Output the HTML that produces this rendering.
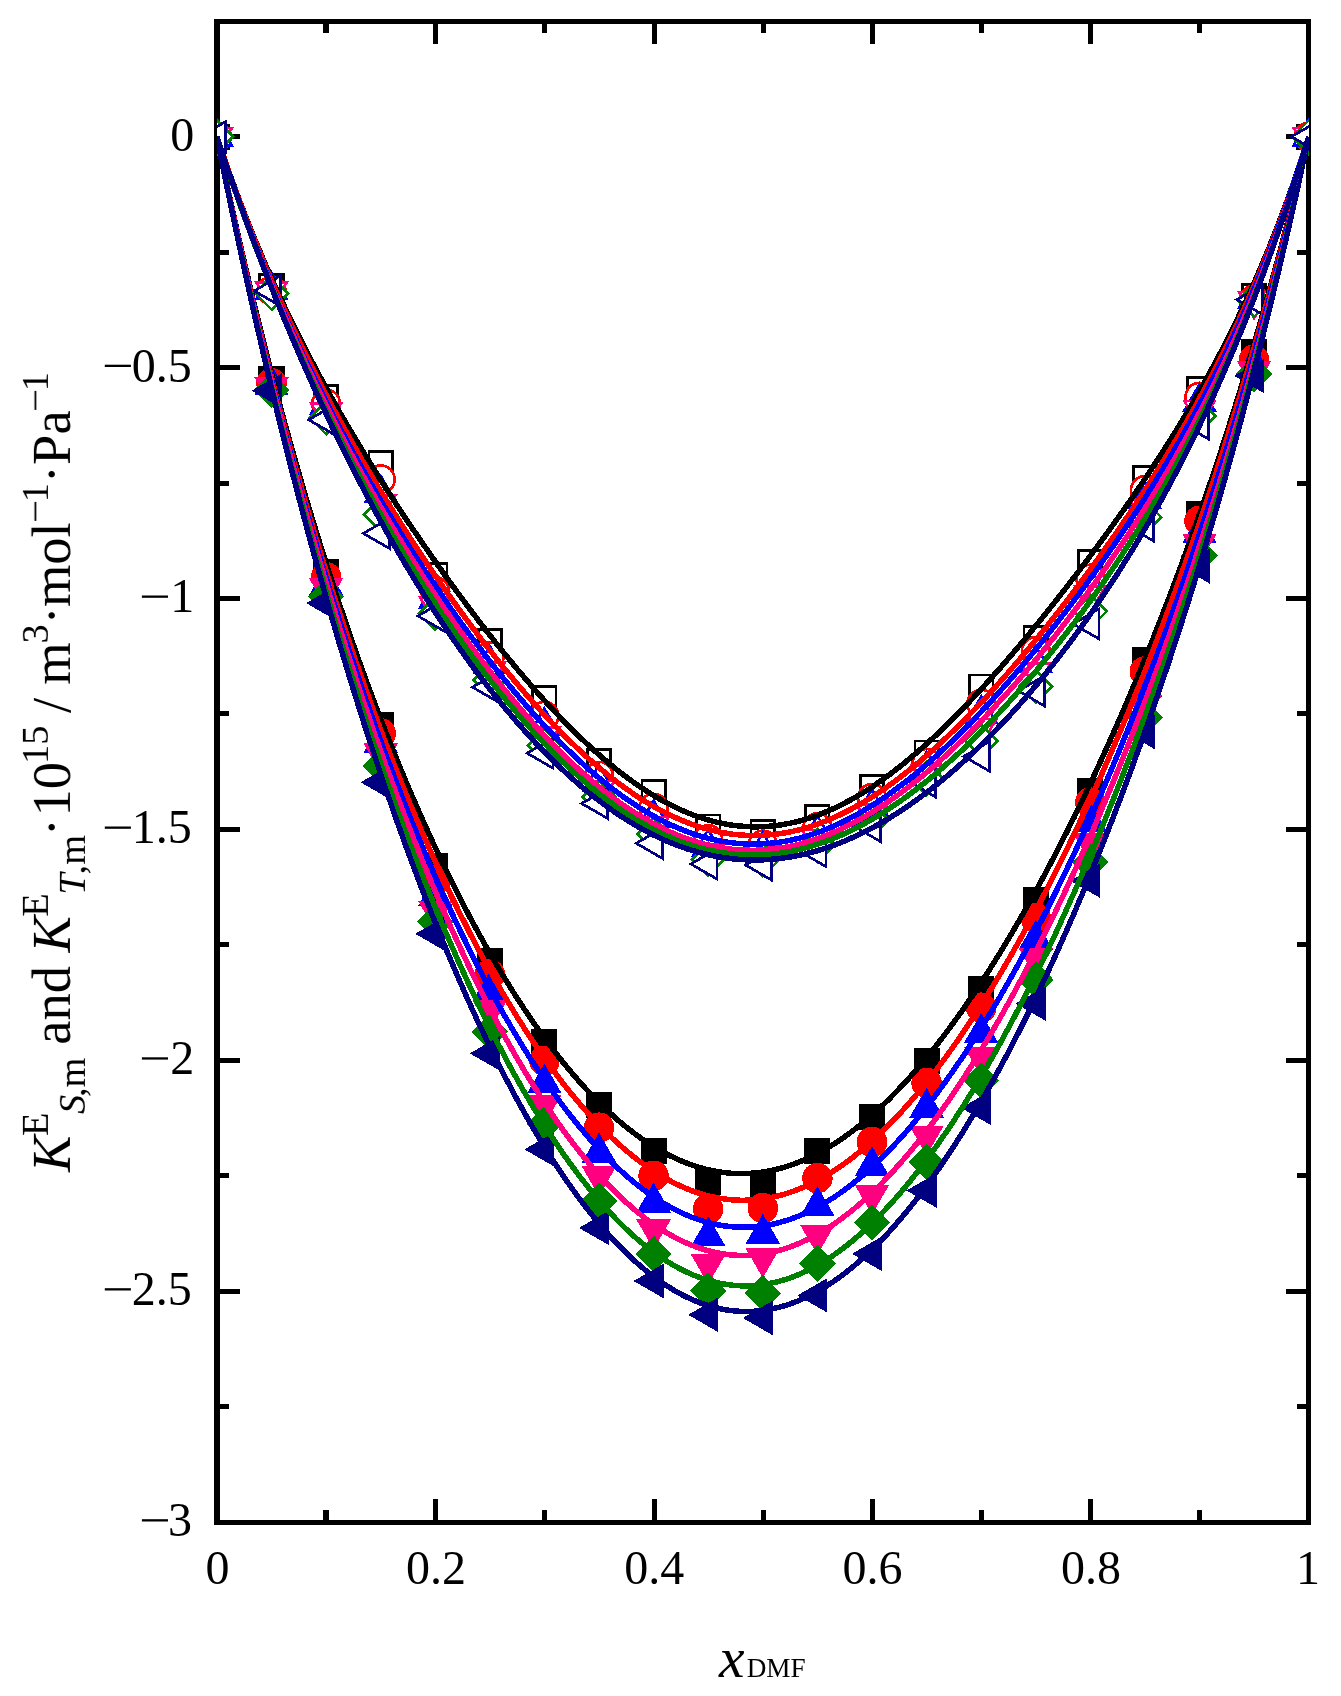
<!DOCTYPE html>
<html><head><meta charset="utf-8"><title>chart</title>
<style>
html,body{margin:0;padding:0;background:#fff;}
svg{display:block;}
.tx{filter:grayscale(1);}
text{font-family:"Liberation Serif",serif;fill:#000;}
.i{font-style:italic;}
</style></head><body>
<svg width="1341" height="1696" viewBox="0 0 1341 1696">
<rect x="0" y="0" width="1341" height="1696" fill="#ffffff"/>
<g fill="#000" shape-rendering="crispEdges">
<rect x="214" y="19" width="6" height="1506"/>
<rect x="1306" y="19" width="5" height="1506"/>
<rect x="214" y="19" width="1097" height="5"/>
<rect x="214" y="1520" width="1097" height="5"/>
<rect x="323" y="1510" width="6" height="10"/>
<rect x="323" y="24" width="6" height="9"/>
<rect x="433" y="1499" width="5" height="21"/>
<rect x="433" y="24" width="5" height="20"/>
<rect x="542" y="1510" width="5" height="10"/>
<rect x="542" y="24" width="5" height="9"/>
<rect x="652" y="1499" width="5" height="21"/>
<rect x="652" y="24" width="5" height="20"/>
<rect x="761" y="1510" width="5" height="10"/>
<rect x="761" y="24" width="5" height="9"/>
<rect x="870" y="1499" width="5" height="21"/>
<rect x="870" y="24" width="5" height="20"/>
<rect x="979" y="1510" width="5" height="10"/>
<rect x="979" y="24" width="5" height="9"/>
<rect x="1088" y="1499" width="5" height="21"/>
<rect x="1088" y="24" width="5" height="20"/>
<rect x="1197" y="1510" width="5" height="10"/>
<rect x="1197" y="24" width="5" height="9"/>
<rect x="220" y="134" width="20" height="5"/>
<rect x="1286" y="134" width="20" height="5"/>
<rect x="220" y="250" width="9" height="5"/>
<rect x="1297" y="250" width="9" height="5"/>
<rect x="220" y="365" width="20" height="5"/>
<rect x="1286" y="365" width="20" height="5"/>
<rect x="220" y="481" width="9" height="5"/>
<rect x="1297" y="481" width="9" height="5"/>
<rect x="220" y="596" width="20" height="5"/>
<rect x="1286" y="596" width="20" height="5"/>
<rect x="220" y="711" width="9" height="5"/>
<rect x="1297" y="711" width="9" height="5"/>
<rect x="220" y="827" width="20" height="5"/>
<rect x="1286" y="827" width="20" height="5"/>
<rect x="220" y="942" width="9" height="5"/>
<rect x="1297" y="942" width="9" height="5"/>
<rect x="220" y="1058" width="20" height="5"/>
<rect x="1286" y="1058" width="20" height="5"/>
<rect x="220" y="1173" width="9" height="5"/>
<rect x="1297" y="1173" width="9" height="5"/>
<rect x="220" y="1289" width="20" height="5"/>
<rect x="1286" y="1289" width="20" height="5"/>
<rect x="220" y="1404" width="9" height="5"/>
<rect x="1297" y="1404" width="9" height="5"/>
</g>
<g class="tx" font-size="48px">
<text x="217.5" y="1584" text-anchor="middle">0</text>
<text x="435.9" y="1584" text-anchor="middle">0.2</text>
<text x="654.2" y="1584" text-anchor="middle">0.4</text>
<text x="872.6" y="1584" text-anchor="middle">0.6</text>
<text x="1090.9" y="1584" text-anchor="middle">0.8</text>
<text x="1308.1" y="1584" text-anchor="middle">1</text>
<text x="194.2" y="150.6" text-anchor="end">0</text>
<text x="191.8" y="381.5" text-anchor="end">0.5</text>
<rect x="104.8" y="364.7" width="26.1" height="2.3" fill="#000"/>
<text x="194.2" y="612.4" text-anchor="end">1</text>
<rect x="141.9" y="595.5" width="26.1" height="2.3" fill="#000"/>
<text x="191.8" y="843.3" text-anchor="end">1.5</text>
<rect x="104.8" y="826.5" width="26.1" height="2.3" fill="#000"/>
<text x="194.2" y="1074.2" text-anchor="end">2</text>
<rect x="141.9" y="1057.3" width="26.1" height="2.3" fill="#000"/>
<text x="191.8" y="1305.1" text-anchor="end">2.5</text>
<rect x="104.8" y="1288.2" width="26.1" height="2.3" fill="#000"/>
<text x="192.0" y="1536.0" text-anchor="end">3</text>
<rect x="141.9" y="1519.2" width="26.1" height="2.3" fill="#000"/>
</g>
<g class="tx"><g transform="translate(69.9,1200.0) rotate(-90)"><text class="i" font-size="54.5px" x="27.95" y="0.0">K</text><text font-size="38.4px" x="63.90" y="-21.9">E</text><text class="i" font-size="38.4px" x="85.95" y="14.6">S</text><text font-size="38.4px" x="103.00" y="14.6">,m</text><text font-size="54.5px" x="155.35" y="0.0">and</text><text class="i" font-size="54.5px" x="247.55" y="0.0">K</text><text font-size="38.4px" x="283.35" y="-21.9">E</text><text class="i" font-size="38.4px" x="305.15" y="14.6">T</text><text font-size="38.4px" x="325.60" y="14.6">,m</text><text font-size="54.5px" x="363.66" y="0.0">·</text><text font-size="54.5px" x="383.47" y="0.0">10</text><text font-size="38.4px" x="436.05" y="-21.9">15</text><text font-size="54.5px" x="486.99" y="0.0">/</text><text font-size="54.5px" x="515.16" y="0.0">m</text><text font-size="38.4px" x="556.50" y="-21.9">3</text><text font-size="54.5px" x="575.56" y="0.0">·</text><text font-size="54.5px" x="592.97" y="0.0">mol</text><text font-size="38.4px" x="697.85" y="-21.9">1</text><text font-size="54.5px" x="716.76" y="0.0">·</text><text font-size="54.5px" x="735.10" y="0.0">Pa</text><text font-size="38.4px" x="808.75" y="-21.9">1</text><rect x="679.1" y="-35.4" width="19.0" height="1.8" fill="#000"/><rect x="790.1" y="-35.4" width="19.0" height="1.8" fill="#000"/></g>
<text class="i" font-size="57.5px" x="718.90" y="1677.3">x</text><text font-size="28px" x="746.66" y="1677.1" textLength="59.0" lengthAdjust="spacingAndGlyphs">DMF</text>
</g>
<defs><clipPath id="plotclip"><rect x="217" y="21" width="1092" height="1502"/></clipPath></defs>
<g clip-path="url(#plotclip)" shape-rendering="crispEdges">
<polygon points="205.2,125.0 228.6,125.0 228.6,148.4 205.2,148.4" fill="#000000" stroke="#000000" stroke-width="2.7" stroke-linejoin="miter"/>
<polygon points="259.8,367.4 283.2,367.4 283.2,390.8 259.8,390.8" fill="#000000" stroke="#000000" stroke-width="2.7" stroke-linejoin="miter"/>
<polygon points="314.4,560.5 337.8,560.5 337.8,583.9 314.4,583.9" fill="#000000" stroke="#000000" stroke-width="2.7" stroke-linejoin="miter"/>
<polygon points="369.0,713.3 392.4,713.3 392.4,736.7 369.0,736.7" fill="#000000" stroke="#000000" stroke-width="2.7" stroke-linejoin="miter"/>
<polygon points="423.6,854.6 447.0,854.6 447.0,878.0 423.6,878.0" fill="#000000" stroke="#000000" stroke-width="2.7" stroke-linejoin="miter"/>
<polygon points="478.2,949.8 501.6,949.8 501.6,973.2 478.2,973.2" fill="#000000" stroke="#000000" stroke-width="2.7" stroke-linejoin="miter"/>
<polygon points="532.7,1030.6 556.1,1030.6 556.1,1054.0 532.7,1054.0" fill="#000000" stroke="#000000" stroke-width="2.7" stroke-linejoin="miter"/>
<polygon points="587.3,1093.4 610.7,1093.4 610.7,1116.8 587.3,1116.8" fill="#000000" stroke="#000000" stroke-width="2.7" stroke-linejoin="miter"/>
<polygon points="641.9,1139.1 665.3,1139.1 665.3,1162.5 641.9,1162.5" fill="#000000" stroke="#000000" stroke-width="2.7" stroke-linejoin="miter"/>
<polygon points="696.5,1170.5 719.9,1170.5 719.9,1193.9 696.5,1193.9" fill="#000000" stroke="#000000" stroke-width="2.7" stroke-linejoin="miter"/>
<polygon points="751.1,1171.9 774.5,1171.9 774.5,1195.3 751.1,1195.3" fill="#000000" stroke="#000000" stroke-width="2.7" stroke-linejoin="miter"/>
<polygon points="805.7,1139.6 829.1,1139.6 829.1,1163.0 805.7,1163.0" fill="#000000" stroke="#000000" stroke-width="2.7" stroke-linejoin="miter"/>
<polygon points="860.3,1104.9 883.7,1104.9 883.7,1128.3 860.3,1128.3" fill="#000000" stroke="#000000" stroke-width="2.7" stroke-linejoin="miter"/>
<polygon points="914.9,1049.5 938.3,1049.5 938.3,1072.9 914.9,1072.9" fill="#000000" stroke="#000000" stroke-width="2.7" stroke-linejoin="miter"/>
<polygon points="969.5,977.5 992.9,977.5 992.9,1000.9 969.5,1000.9" fill="#000000" stroke="#000000" stroke-width="2.7" stroke-linejoin="miter"/>
<polygon points="1024.0,888.4 1047.5,888.4 1047.5,911.8 1024.0,911.8" fill="#000000" stroke="#000000" stroke-width="2.7" stroke-linejoin="miter"/>
<polygon points="1078.6,778.9 1102.0,778.9 1102.0,802.3 1078.6,802.3" fill="#000000" stroke="#000000" stroke-width="2.7" stroke-linejoin="miter"/>
<polygon points="1133.2,648.7 1156.6,648.7 1156.6,672.1 1133.2,672.1" fill="#000000" stroke="#000000" stroke-width="2.7" stroke-linejoin="miter"/>
<polygon points="1187.8,502.3 1211.2,502.3 1211.2,525.7 1187.8,525.7" fill="#000000" stroke="#000000" stroke-width="2.7" stroke-linejoin="miter"/>
<polygon points="1242.4,340.7 1265.8,340.7 1265.8,364.1 1242.4,364.1" fill="#000000" stroke="#000000" stroke-width="2.7" stroke-linejoin="miter"/>
<polygon points="1297.0,125.0 1320.4,125.0 1320.4,148.4 1297.0,148.4" fill="#000000" stroke="#000000" stroke-width="2.7" stroke-linejoin="miter"/>
<circle cx="216.9" cy="136.7" r="13.9" fill="#ff0000" stroke="#ff0000" stroke-width="2.7" stroke-linejoin="miter"/>
<circle cx="271.5" cy="383.3" r="13.9" fill="#ff0000" stroke="#ff0000" stroke-width="2.7" stroke-linejoin="miter"/>
<circle cx="326.1" cy="577.3" r="13.9" fill="#ff0000" stroke="#ff0000" stroke-width="2.7" stroke-linejoin="miter"/>
<circle cx="380.7" cy="733.3" r="13.9" fill="#ff0000" stroke="#ff0000" stroke-width="2.7" stroke-linejoin="miter"/>
<circle cx="435.3" cy="880.2" r="13.9" fill="#ff0000" stroke="#ff0000" stroke-width="2.7" stroke-linejoin="miter"/>
<circle cx="489.9" cy="974.4" r="13.9" fill="#ff0000" stroke="#ff0000" stroke-width="2.7" stroke-linejoin="miter"/>
<circle cx="544.4" cy="1060.8" r="13.9" fill="#ff0000" stroke="#ff0000" stroke-width="2.7" stroke-linejoin="miter"/>
<circle cx="599.0" cy="1127.7" r="13.9" fill="#ff0000" stroke="#ff0000" stroke-width="2.7" stroke-linejoin="miter"/>
<circle cx="653.6" cy="1175.8" r="13.9" fill="#ff0000" stroke="#ff0000" stroke-width="2.7" stroke-linejoin="miter"/>
<circle cx="708.2" cy="1209.0" r="13.9" fill="#ff0000" stroke="#ff0000" stroke-width="2.7" stroke-linejoin="miter"/>
<circle cx="762.8" cy="1208.1" r="13.9" fill="#ff0000" stroke="#ff0000" stroke-width="2.7" stroke-linejoin="miter"/>
<circle cx="817.4" cy="1178.1" r="13.9" fill="#ff0000" stroke="#ff0000" stroke-width="2.7" stroke-linejoin="miter"/>
<circle cx="872.0" cy="1142.0" r="13.9" fill="#ff0000" stroke="#ff0000" stroke-width="2.7" stroke-linejoin="miter"/>
<circle cx="926.6" cy="1082.9" r="13.9" fill="#ff0000" stroke="#ff0000" stroke-width="2.7" stroke-linejoin="miter"/>
<circle cx="981.2" cy="1007.7" r="13.9" fill="#ff0000" stroke="#ff0000" stroke-width="2.7" stroke-linejoin="miter"/>
<circle cx="1035.8" cy="918.1" r="13.9" fill="#ff0000" stroke="#ff0000" stroke-width="2.7" stroke-linejoin="miter"/>
<circle cx="1090.3" cy="802.6" r="13.9" fill="#ff0000" stroke="#ff0000" stroke-width="2.7" stroke-linejoin="miter"/>
<circle cx="1144.9" cy="671.5" r="13.9" fill="#ff0000" stroke="#ff0000" stroke-width="2.7" stroke-linejoin="miter"/>
<circle cx="1199.5" cy="520.9" r="13.9" fill="#ff0000" stroke="#ff0000" stroke-width="2.7" stroke-linejoin="miter"/>
<circle cx="1254.1" cy="359.7" r="13.9" fill="#ff0000" stroke="#ff0000" stroke-width="2.7" stroke-linejoin="miter"/>
<circle cx="1308.7" cy="136.7" r="13.9" fill="#ff0000" stroke="#ff0000" stroke-width="2.7" stroke-linejoin="miter"/>
<polygon points="216.9,119.4 231.9,145.4 201.9,145.4" fill="#0000ff" stroke="#0000ff" stroke-width="2.7" stroke-linejoin="miter"/>
<polygon points="271.5,367.8 286.5,393.8 256.5,393.8" fill="#0000ff" stroke="#0000ff" stroke-width="2.7" stroke-linejoin="miter"/>
<polygon points="326.1,568.2 341.1,594.2 311.1,594.2" fill="#0000ff" stroke="#0000ff" stroke-width="2.7" stroke-linejoin="miter"/>
<polygon points="380.7,725.7 395.7,751.7 365.7,751.7" fill="#0000ff" stroke="#0000ff" stroke-width="2.7" stroke-linejoin="miter"/>
<polygon points="435.3,879.0 450.3,905.0 420.3,905.0" fill="#0000ff" stroke="#0000ff" stroke-width="2.7" stroke-linejoin="miter"/>
<polygon points="489.9,973.7 504.9,999.7 474.9,999.7" fill="#0000ff" stroke="#0000ff" stroke-width="2.7" stroke-linejoin="miter"/>
<polygon points="544.4,1066.1 559.4,1092.1 529.4,1092.1" fill="#0000ff" stroke="#0000ff" stroke-width="2.7" stroke-linejoin="miter"/>
<polygon points="599.0,1135.3 614.0,1161.3 584.0,1161.3" fill="#0000ff" stroke="#0000ff" stroke-width="2.7" stroke-linejoin="miter"/>
<polygon points="653.6,1185.2 668.6,1211.2 638.6,1211.2" fill="#0000ff" stroke="#0000ff" stroke-width="2.7" stroke-linejoin="miter"/>
<polygon points="708.2,1218.9 723.2,1244.9 693.2,1244.9" fill="#0000ff" stroke="#0000ff" stroke-width="2.7" stroke-linejoin="miter"/>
<polygon points="762.8,1216.6 777.8,1242.6 747.8,1242.6" fill="#0000ff" stroke="#0000ff" stroke-width="2.7" stroke-linejoin="miter"/>
<polygon points="817.4,1188.9 832.4,1214.9 802.4,1214.9" fill="#0000ff" stroke="#0000ff" stroke-width="2.7" stroke-linejoin="miter"/>
<polygon points="872.0,1148.7 887.0,1174.7 857.0,1174.7" fill="#0000ff" stroke="#0000ff" stroke-width="2.7" stroke-linejoin="miter"/>
<polygon points="926.6,1090.5 941.6,1116.5 911.6,1116.5" fill="#0000ff" stroke="#0000ff" stroke-width="2.7" stroke-linejoin="miter"/>
<polygon points="981.2,1015.7 996.2,1041.7 966.2,1041.7" fill="#0000ff" stroke="#0000ff" stroke-width="2.7" stroke-linejoin="miter"/>
<polygon points="1035.8,922.4 1050.8,948.4 1020.8,948.4" fill="#0000ff" stroke="#0000ff" stroke-width="2.7" stroke-linejoin="miter"/>
<polygon points="1090.3,805.2 1105.3,831.1 1075.3,831.1" fill="#0000ff" stroke="#0000ff" stroke-width="2.7" stroke-linejoin="miter"/>
<polygon points="1144.9,669.8 1159.9,695.8 1129.9,695.8" fill="#0000ff" stroke="#0000ff" stroke-width="2.7" stroke-linejoin="miter"/>
<polygon points="1199.5,516.1 1214.5,542.0 1184.5,542.0" fill="#0000ff" stroke="#0000ff" stroke-width="2.7" stroke-linejoin="miter"/>
<polygon points="1254.1,348.0 1269.1,374.0 1239.1,374.0" fill="#0000ff" stroke="#0000ff" stroke-width="2.7" stroke-linejoin="miter"/>
<polygon points="1308.7,119.4 1323.7,145.4 1293.7,145.4" fill="#0000ff" stroke="#0000ff" stroke-width="2.7" stroke-linejoin="miter"/>
<polygon points="216.9,154.0 231.9,128.0 201.9,128.0" fill="#ff0080" stroke="#ff0080" stroke-width="2.7" stroke-linejoin="miter"/>
<polygon points="271.5,404.3 286.5,378.3 256.5,378.3" fill="#ff0080" stroke="#ff0080" stroke-width="2.7" stroke-linejoin="miter"/>
<polygon points="326.1,605.2 341.1,579.2 311.1,579.2" fill="#ff0080" stroke="#ff0080" stroke-width="2.7" stroke-linejoin="miter"/>
<polygon points="380.7,770.5 395.7,744.5 365.7,744.5" fill="#ff0080" stroke="#ff0080" stroke-width="2.7" stroke-linejoin="miter"/>
<polygon points="435.3,928.0 450.3,902.0 420.3,902.0" fill="#ff0080" stroke="#ff0080" stroke-width="2.7" stroke-linejoin="miter"/>
<polygon points="489.9,1027.7 504.9,1001.8 474.9,1001.8" fill="#ff0080" stroke="#ff0080" stroke-width="2.7" stroke-linejoin="miter"/>
<polygon points="544.4,1122.0 559.4,1096.0 529.4,1096.0" fill="#ff0080" stroke="#ff0080" stroke-width="2.7" stroke-linejoin="miter"/>
<polygon points="599.0,1193.5 614.0,1167.6 584.0,1167.6" fill="#ff0080" stroke="#ff0080" stroke-width="2.7" stroke-linejoin="miter"/>
<polygon points="653.6,1246.6 668.6,1220.7 638.6,1220.7" fill="#ff0080" stroke="#ff0080" stroke-width="2.7" stroke-linejoin="miter"/>
<polygon points="708.2,1281.7 723.2,1255.8 693.2,1255.8" fill="#ff0080" stroke="#ff0080" stroke-width="2.7" stroke-linejoin="miter"/>
<polygon points="762.8,1275.3 777.8,1249.3 747.8,1249.3" fill="#ff0080" stroke="#ff0080" stroke-width="2.7" stroke-linejoin="miter"/>
<polygon points="817.4,1252.2 832.4,1226.2 802.4,1226.2" fill="#ff0080" stroke="#ff0080" stroke-width="2.7" stroke-linejoin="miter"/>
<polygon points="872.0,1212.0 887.0,1186.0 857.0,1186.0" fill="#ff0080" stroke="#ff0080" stroke-width="2.7" stroke-linejoin="miter"/>
<polygon points="926.6,1152.9 941.6,1126.9 911.6,1126.9" fill="#ff0080" stroke="#ff0080" stroke-width="2.7" stroke-linejoin="miter"/>
<polygon points="981.2,1073.9 996.2,1047.9 966.2,1047.9" fill="#ff0080" stroke="#ff0080" stroke-width="2.7" stroke-linejoin="miter"/>
<polygon points="1035.8,975.1 1050.8,949.1 1020.8,949.1" fill="#ff0080" stroke="#ff0080" stroke-width="2.7" stroke-linejoin="miter"/>
<polygon points="1090.3,860.6 1105.3,834.6 1075.3,834.6" fill="#ff0080" stroke="#ff0080" stroke-width="2.7" stroke-linejoin="miter"/>
<polygon points="1144.9,722.0 1159.9,696.1 1129.9,696.1" fill="#ff0080" stroke="#ff0080" stroke-width="2.7" stroke-linejoin="miter"/>
<polygon points="1199.5,560.9 1214.5,534.9 1184.5,534.9" fill="#ff0080" stroke="#ff0080" stroke-width="2.7" stroke-linejoin="miter"/>
<polygon points="1254.1,388.2 1269.1,362.2 1239.1,362.2" fill="#ff0080" stroke="#ff0080" stroke-width="2.7" stroke-linejoin="miter"/>
<polygon points="1308.7,154.0 1323.7,128.0 1293.7,128.0" fill="#ff0080" stroke="#ff0080" stroke-width="2.7" stroke-linejoin="miter"/>
<polygon points="216.9,120.4 233.2,136.7 216.9,153.0 200.6,136.7" fill="#008000" stroke="#008000" stroke-width="2.7" stroke-linejoin="miter"/>
<polygon points="271.5,373.5 287.8,389.8 271.5,406.1 255.2,389.8" fill="#008000" stroke="#008000" stroke-width="2.7" stroke-linejoin="miter"/>
<polygon points="326.1,580.4 342.4,596.7 326.1,613.0 309.8,596.7" fill="#008000" stroke="#008000" stroke-width="2.7" stroke-linejoin="miter"/>
<polygon points="380.7,749.8 397.0,766.1 380.7,782.4 364.4,766.1" fill="#008000" stroke="#008000" stroke-width="2.7" stroke-linejoin="miter"/>
<polygon points="435.3,905.5 451.6,921.8 435.3,938.1 419.0,921.8" fill="#008000" stroke="#008000" stroke-width="2.7" stroke-linejoin="miter"/>
<polygon points="489.9,1015.4 506.2,1031.7 489.9,1048.0 473.6,1031.7" fill="#008000" stroke="#008000" stroke-width="2.7" stroke-linejoin="miter"/>
<polygon points="544.4,1107.7 560.7,1124.0 544.4,1140.3 528.1,1124.0" fill="#008000" stroke="#008000" stroke-width="2.7" stroke-linejoin="miter"/>
<polygon points="599.0,1184.8 615.3,1201.1 599.0,1217.4 582.7,1201.1" fill="#008000" stroke="#008000" stroke-width="2.7" stroke-linejoin="miter"/>
<polygon points="653.6,1237.5 669.9,1253.8 653.6,1270.1 637.3,1253.8" fill="#008000" stroke="#008000" stroke-width="2.7" stroke-linejoin="miter"/>
<polygon points="708.2,1274.4 724.5,1290.7 708.2,1307.0 691.9,1290.7" fill="#008000" stroke="#008000" stroke-width="2.7" stroke-linejoin="miter"/>
<polygon points="762.8,1276.7 779.1,1293.0 762.8,1309.3 746.5,1293.0" fill="#008000" stroke="#008000" stroke-width="2.7" stroke-linejoin="miter"/>
<polygon points="817.4,1247.2 833.7,1263.5 817.4,1279.8 801.1,1263.5" fill="#008000" stroke="#008000" stroke-width="2.7" stroke-linejoin="miter"/>
<polygon points="872.0,1206.1 888.3,1222.4 872.0,1238.7 855.7,1222.4" fill="#008000" stroke="#008000" stroke-width="2.7" stroke-linejoin="miter"/>
<polygon points="926.6,1145.6 942.9,1161.9 926.6,1178.2 910.3,1161.9" fill="#008000" stroke="#008000" stroke-width="2.7" stroke-linejoin="miter"/>
<polygon points="981.2,1064.3 997.5,1080.6 981.2,1096.9 964.9,1080.6" fill="#008000" stroke="#008000" stroke-width="2.7" stroke-linejoin="miter"/>
<polygon points="1035.8,963.6 1052.0,979.9 1035.8,996.2 1019.5,979.9" fill="#008000" stroke="#008000" stroke-width="2.7" stroke-linejoin="miter"/>
<polygon points="1090.3,845.9 1106.6,862.2 1090.3,878.5 1074.0,862.2" fill="#008000" stroke="#008000" stroke-width="2.7" stroke-linejoin="miter"/>
<polygon points="1144.9,700.9 1161.2,717.2 1144.9,733.5 1128.6,717.2" fill="#008000" stroke="#008000" stroke-width="2.7" stroke-linejoin="miter"/>
<polygon points="1199.5,539.3 1215.8,555.6 1199.5,571.9 1183.2,555.6" fill="#008000" stroke="#008000" stroke-width="2.7" stroke-linejoin="miter"/>
<polygon points="1254.1,357.8 1270.4,374.1 1254.1,390.4 1237.8,374.1" fill="#008000" stroke="#008000" stroke-width="2.7" stroke-linejoin="miter"/>
<polygon points="1308.7,120.4 1325.0,136.7 1308.7,153.0 1292.4,136.7" fill="#008000" stroke="#008000" stroke-width="2.7" stroke-linejoin="miter"/>
<polygon points="199.6,136.7 225.6,121.7 225.6,151.7" fill="#000080" stroke="#000080" stroke-width="2.7" stroke-linejoin="miter"/>
<polygon points="254.2,390.7 280.2,375.7 280.2,405.7" fill="#000080" stroke="#000080" stroke-width="2.7" stroke-linejoin="miter"/>
<polygon points="308.8,603.1 334.7,588.1 334.7,618.1" fill="#000080" stroke="#000080" stroke-width="2.7" stroke-linejoin="miter"/>
<polygon points="363.3,782.3 389.3,767.3 389.3,797.3" fill="#000080" stroke="#000080" stroke-width="2.7" stroke-linejoin="miter"/>
<polygon points="417.9,933.8 443.9,918.8 443.9,948.8" fill="#000080" stroke="#000080" stroke-width="2.7" stroke-linejoin="miter"/>
<polygon points="472.5,1053.4 498.5,1038.4 498.5,1068.4" fill="#000080" stroke="#000080" stroke-width="2.7" stroke-linejoin="miter"/>
<polygon points="527.1,1149.4 553.1,1134.4 553.1,1164.4" fill="#000080" stroke="#000080" stroke-width="2.7" stroke-linejoin="miter"/>
<polygon points="581.7,1227.9 607.7,1212.9 607.7,1242.9" fill="#000080" stroke="#000080" stroke-width="2.7" stroke-linejoin="miter"/>
<polygon points="636.3,1281.0 662.3,1266.0 662.3,1296.0" fill="#000080" stroke="#000080" stroke-width="2.7" stroke-linejoin="miter"/>
<polygon points="690.9,1314.8 716.9,1299.8 716.9,1329.8" fill="#000080" stroke="#000080" stroke-width="2.7" stroke-linejoin="miter"/>
<polygon points="745.5,1318.0 771.5,1303.0 771.5,1333.0" fill="#000080" stroke="#000080" stroke-width="2.7" stroke-linejoin="miter"/>
<polygon points="800.1,1295.4 826.1,1280.4 826.1,1310.4" fill="#000080" stroke="#000080" stroke-width="2.7" stroke-linejoin="miter"/>
<polygon points="854.7,1253.8 880.6,1238.8 880.6,1268.8" fill="#000080" stroke="#000080" stroke-width="2.7" stroke-linejoin="miter"/>
<polygon points="909.2,1190.5 935.2,1175.5 935.2,1205.5" fill="#000080" stroke="#000080" stroke-width="2.7" stroke-linejoin="miter"/>
<polygon points="963.8,1107.9 989.8,1092.9 989.8,1122.9" fill="#000080" stroke="#000080" stroke-width="2.7" stroke-linejoin="miter"/>
<polygon points="1018.4,1003.5 1044.4,988.5 1044.4,1018.5" fill="#000080" stroke="#000080" stroke-width="2.7" stroke-linejoin="miter"/>
<polygon points="1073.0,880.7 1099.0,865.7 1099.0,895.7" fill="#000080" stroke="#000080" stroke-width="2.7" stroke-linejoin="miter"/>
<polygon points="1127.6,732.0 1153.6,717.0 1153.6,747.0" fill="#000080" stroke="#000080" stroke-width="2.7" stroke-linejoin="miter"/>
<polygon points="1182.2,566.2 1208.2,551.2 1208.2,581.2" fill="#000080" stroke="#000080" stroke-width="2.7" stroke-linejoin="miter"/>
<polygon points="1236.8,375.9 1262.8,360.9 1262.8,390.9" fill="#000080" stroke="#000080" stroke-width="2.7" stroke-linejoin="miter"/>
<polygon points="1291.4,136.7 1317.4,121.7 1317.4,151.7" fill="#000080" stroke="#000080" stroke-width="2.7" stroke-linejoin="miter"/>
<polygon points="205.2,125.0 228.6,125.0 228.6,148.4 205.2,148.4" fill="#ffffff" stroke="#000000" stroke-width="2.7" stroke-linejoin="miter"/>
<polygon points="259.8,274.6 283.2,274.6 283.2,298.0 259.8,298.0" fill="#ffffff" stroke="#000000" stroke-width="2.7" stroke-linejoin="miter"/>
<polygon points="314.4,385.5 337.8,385.5 337.8,408.9 314.4,408.9" fill="#ffffff" stroke="#000000" stroke-width="2.7" stroke-linejoin="miter"/>
<polygon points="369.0,451.5 392.4,451.5 392.4,474.9 369.0,474.9" fill="#ffffff" stroke="#000000" stroke-width="2.7" stroke-linejoin="miter"/>
<polygon points="423.6,563.7 447.0,563.7 447.0,587.1 423.6,587.1" fill="#ffffff" stroke="#000000" stroke-width="2.7" stroke-linejoin="miter"/>
<polygon points="478.2,629.7 501.6,629.7 501.6,653.1 478.2,653.1" fill="#ffffff" stroke="#000000" stroke-width="2.7" stroke-linejoin="miter"/>
<polygon points="532.7,686.5 556.1,686.5 556.1,709.9 532.7,709.9" fill="#ffffff" stroke="#000000" stroke-width="2.7" stroke-linejoin="miter"/>
<polygon points="587.3,749.4 610.7,749.4 610.7,772.8 587.3,772.8" fill="#ffffff" stroke="#000000" stroke-width="2.7" stroke-linejoin="miter"/>
<polygon points="641.9,780.8 665.3,780.8 665.3,804.2 641.9,804.2" fill="#ffffff" stroke="#000000" stroke-width="2.7" stroke-linejoin="miter"/>
<polygon points="696.5,814.9 719.9,814.9 719.9,838.3 696.5,838.3" fill="#ffffff" stroke="#000000" stroke-width="2.7" stroke-linejoin="miter"/>
<polygon points="751.1,820.5 774.5,820.5 774.5,843.9 751.1,843.9" fill="#ffffff" stroke="#000000" stroke-width="2.7" stroke-linejoin="miter"/>
<polygon points="805.7,805.7 829.1,805.7 829.1,829.1 805.7,829.1" fill="#ffffff" stroke="#000000" stroke-width="2.7" stroke-linejoin="miter"/>
<polygon points="860.3,775.2 883.7,775.2 883.7,798.6 860.3,798.6" fill="#ffffff" stroke="#000000" stroke-width="2.7" stroke-linejoin="miter"/>
<polygon points="914.9,741.0 938.3,741.0 938.3,764.4 914.9,764.4" fill="#ffffff" stroke="#000000" stroke-width="2.7" stroke-linejoin="miter"/>
<polygon points="969.5,675.0 992.9,675.0 992.9,698.4 969.5,698.4" fill="#ffffff" stroke="#000000" stroke-width="2.7" stroke-linejoin="miter"/>
<polygon points="1024.0,626.5 1047.5,626.5 1047.5,649.9 1024.0,649.9" fill="#ffffff" stroke="#000000" stroke-width="2.7" stroke-linejoin="miter"/>
<polygon points="1078.6,550.8 1102.0,550.8 1102.0,574.2 1078.6,574.2" fill="#ffffff" stroke="#000000" stroke-width="2.7" stroke-linejoin="miter"/>
<polygon points="1133.2,466.7 1156.6,466.7 1156.6,490.1 1133.2,490.1" fill="#ffffff" stroke="#000000" stroke-width="2.7" stroke-linejoin="miter"/>
<polygon points="1187.8,377.6 1211.2,377.6 1211.2,401.0 1187.8,401.0" fill="#ffffff" stroke="#000000" stroke-width="2.7" stroke-linejoin="miter"/>
<polygon points="1242.4,284.3 1265.8,284.3 1265.8,307.7 1242.4,307.7" fill="#ffffff" stroke="#000000" stroke-width="2.7" stroke-linejoin="miter"/>
<polygon points="1297.0,125.0 1320.4,125.0 1320.4,148.4 1297.0,148.4" fill="#ffffff" stroke="#000000" stroke-width="2.7" stroke-linejoin="miter"/>
<circle cx="216.9" cy="136.7" r="13.9" fill="#ffffff" stroke="#ff0000" stroke-width="2.7" stroke-linejoin="miter"/>
<circle cx="271.5" cy="290.5" r="13.9" fill="#ffffff" stroke="#ff0000" stroke-width="2.7" stroke-linejoin="miter"/>
<circle cx="326.1" cy="403.6" r="13.9" fill="#ffffff" stroke="#ff0000" stroke-width="2.7" stroke-linejoin="miter"/>
<circle cx="380.7" cy="479.4" r="13.9" fill="#ffffff" stroke="#ff0000" stroke-width="2.7" stroke-linejoin="miter"/>
<circle cx="435.3" cy="591.1" r="13.9" fill="#ffffff" stroke="#ff0000" stroke-width="2.7" stroke-linejoin="miter"/>
<circle cx="489.9" cy="656.2" r="13.9" fill="#ffffff" stroke="#ff0000" stroke-width="2.7" stroke-linejoin="miter"/>
<circle cx="544.4" cy="715.8" r="13.9" fill="#ffffff" stroke="#ff0000" stroke-width="2.7" stroke-linejoin="miter"/>
<circle cx="599.0" cy="775.8" r="13.9" fill="#ffffff" stroke="#ff0000" stroke-width="2.7" stroke-linejoin="miter"/>
<circle cx="653.6" cy="807.7" r="13.9" fill="#ffffff" stroke="#ff0000" stroke-width="2.7" stroke-linejoin="miter"/>
<circle cx="708.2" cy="839.1" r="13.9" fill="#ffffff" stroke="#ff0000" stroke-width="2.7" stroke-linejoin="miter"/>
<circle cx="762.8" cy="844.6" r="13.9" fill="#ffffff" stroke="#ff0000" stroke-width="2.7" stroke-linejoin="miter"/>
<circle cx="817.4" cy="827.1" r="13.9" fill="#ffffff" stroke="#ff0000" stroke-width="2.7" stroke-linejoin="miter"/>
<circle cx="872.0" cy="798.0" r="13.9" fill="#ffffff" stroke="#ff0000" stroke-width="2.7" stroke-linejoin="miter"/>
<circle cx="926.6" cy="762.9" r="13.9" fill="#ffffff" stroke="#ff0000" stroke-width="2.7" stroke-linejoin="miter"/>
<circle cx="981.2" cy="703.8" r="13.9" fill="#ffffff" stroke="#ff0000" stroke-width="2.7" stroke-linejoin="miter"/>
<circle cx="1035.8" cy="651.1" r="13.9" fill="#ffffff" stroke="#ff0000" stroke-width="2.7" stroke-linejoin="miter"/>
<circle cx="1090.3" cy="578.6" r="13.9" fill="#ffffff" stroke="#ff0000" stroke-width="2.7" stroke-linejoin="miter"/>
<circle cx="1144.9" cy="490.0" r="13.9" fill="#ffffff" stroke="#ff0000" stroke-width="2.7" stroke-linejoin="miter"/>
<circle cx="1199.5" cy="396.7" r="13.9" fill="#ffffff" stroke="#ff0000" stroke-width="2.7" stroke-linejoin="miter"/>
<circle cx="1254.1" cy="299.7" r="13.9" fill="#ffffff" stroke="#ff0000" stroke-width="2.7" stroke-linejoin="miter"/>
<circle cx="1308.7" cy="136.7" r="13.9" fill="#ffffff" stroke="#ff0000" stroke-width="2.7" stroke-linejoin="miter"/>
<polygon points="216.9,119.4 231.9,145.4 201.9,145.4" fill="#ffffff" stroke="#0000ff" stroke-width="2.7" stroke-linejoin="miter"/>
<polygon points="271.5,272.7 286.5,298.7 256.5,298.7" fill="#ffffff" stroke="#0000ff" stroke-width="2.7" stroke-linejoin="miter"/>
<polygon points="326.1,387.7 341.1,413.7 311.1,413.7" fill="#ffffff" stroke="#0000ff" stroke-width="2.7" stroke-linejoin="miter"/>
<polygon points="380.7,475.9 395.7,501.9 365.7,501.9" fill="#ffffff" stroke="#0000ff" stroke-width="2.7" stroke-linejoin="miter"/>
<polygon points="435.3,581.2 450.3,607.2 420.3,607.2" fill="#ffffff" stroke="#0000ff" stroke-width="2.7" stroke-linejoin="miter"/>
<polygon points="489.9,646.3 504.9,672.3 474.9,672.3" fill="#ffffff" stroke="#0000ff" stroke-width="2.7" stroke-linejoin="miter"/>
<polygon points="544.4,708.6 559.4,734.6 529.4,734.6" fill="#ffffff" stroke="#0000ff" stroke-width="2.7" stroke-linejoin="miter"/>
<polygon points="599.0,765.0 614.0,791.0 584.0,791.0" fill="#ffffff" stroke="#0000ff" stroke-width="2.7" stroke-linejoin="miter"/>
<polygon points="653.6,800.5 668.6,826.5 638.6,826.5" fill="#ffffff" stroke="#0000ff" stroke-width="2.7" stroke-linejoin="miter"/>
<polygon points="708.2,829.6 723.2,855.6 693.2,855.6" fill="#ffffff" stroke="#0000ff" stroke-width="2.7" stroke-linejoin="miter"/>
<polygon points="762.8,832.4 777.8,858.4 747.8,858.4" fill="#ffffff" stroke="#0000ff" stroke-width="2.7" stroke-linejoin="miter"/>
<polygon points="817.4,815.8 832.4,841.8 802.4,841.8" fill="#ffffff" stroke="#0000ff" stroke-width="2.7" stroke-linejoin="miter"/>
<polygon points="872.0,789.0 887.0,815.0 857.0,815.0" fill="#ffffff" stroke="#0000ff" stroke-width="2.7" stroke-linejoin="miter"/>
<polygon points="926.6,752.0 941.6,778.0 911.6,778.0" fill="#ffffff" stroke="#0000ff" stroke-width="2.7" stroke-linejoin="miter"/>
<polygon points="981.2,696.6 996.2,722.6 966.2,722.6" fill="#ffffff" stroke="#0000ff" stroke-width="2.7" stroke-linejoin="miter"/>
<polygon points="1035.8,645.8 1050.8,671.8 1020.8,671.8" fill="#ffffff" stroke="#0000ff" stroke-width="2.7" stroke-linejoin="miter"/>
<polygon points="1090.3,567.8 1105.3,593.8 1075.3,593.8" fill="#ffffff" stroke="#0000ff" stroke-width="2.7" stroke-linejoin="miter"/>
<polygon points="1144.9,481.9 1159.9,507.9 1129.9,507.9" fill="#ffffff" stroke="#0000ff" stroke-width="2.7" stroke-linejoin="miter"/>
<polygon points="1199.5,384.5 1214.5,410.4 1184.5,410.4" fill="#ffffff" stroke="#0000ff" stroke-width="2.7" stroke-linejoin="miter"/>
<polygon points="1254.1,281.9 1269.1,307.9 1239.1,307.9" fill="#ffffff" stroke="#0000ff" stroke-width="2.7" stroke-linejoin="miter"/>
<polygon points="1308.7,119.4 1323.7,145.4 1293.7,145.4" fill="#ffffff" stroke="#0000ff" stroke-width="2.7" stroke-linejoin="miter"/>
<polygon points="216.9,154.0 231.9,128.0 201.9,128.0" fill="#ffffff" stroke="#ff0080" stroke-width="2.7" stroke-linejoin="miter"/>
<polygon points="271.5,308.7 286.5,282.7 256.5,282.7" fill="#ffffff" stroke="#ff0080" stroke-width="2.7" stroke-linejoin="miter"/>
<polygon points="326.1,429.3 341.1,403.3 311.1,403.3" fill="#ffffff" stroke="#ff0080" stroke-width="2.7" stroke-linejoin="miter"/>
<polygon points="380.7,521.2 395.7,495.2 365.7,495.2" fill="#ffffff" stroke="#ff0080" stroke-width="2.7" stroke-linejoin="miter"/>
<polygon points="435.3,623.7 450.3,597.7 420.3,597.7" fill="#ffffff" stroke="#ff0080" stroke-width="2.7" stroke-linejoin="miter"/>
<polygon points="489.9,688.3 504.9,662.3 474.9,662.3" fill="#ffffff" stroke="#ff0080" stroke-width="2.7" stroke-linejoin="miter"/>
<polygon points="544.4,753.4 559.4,727.5 529.4,727.5" fill="#ffffff" stroke="#ff0080" stroke-width="2.7" stroke-linejoin="miter"/>
<polygon points="599.0,807.0 614.0,781.0 584.0,781.0" fill="#ffffff" stroke="#ff0080" stroke-width="2.7" stroke-linejoin="miter"/>
<polygon points="653.6,843.0 668.6,817.0 638.6,817.0" fill="#ffffff" stroke="#ff0080" stroke-width="2.7" stroke-linejoin="miter"/>
<polygon points="708.2,870.7 723.2,844.8 693.2,844.8" fill="#ffffff" stroke="#ff0080" stroke-width="2.7" stroke-linejoin="miter"/>
<polygon points="762.8,872.1 777.8,846.1 747.8,846.1" fill="#ffffff" stroke="#ff0080" stroke-width="2.7" stroke-linejoin="miter"/>
<polygon points="817.4,856.0 832.4,830.0 802.4,830.0" fill="#ffffff" stroke="#ff0080" stroke-width="2.7" stroke-linejoin="miter"/>
<polygon points="872.0,830.6 887.0,804.6 857.0,804.6" fill="#ffffff" stroke="#ff0080" stroke-width="2.7" stroke-linejoin="miter"/>
<polygon points="926.6,791.3 941.6,765.3 911.6,765.3" fill="#ffffff" stroke="#ff0080" stroke-width="2.7" stroke-linejoin="miter"/>
<polygon points="981.2,745.1 996.2,719.1 966.2,719.1" fill="#ffffff" stroke="#ff0080" stroke-width="2.7" stroke-linejoin="miter"/>
<polygon points="1035.8,689.2 1050.8,663.3 1020.8,663.3" fill="#ffffff" stroke="#ff0080" stroke-width="2.7" stroke-linejoin="miter"/>
<polygon points="1090.3,612.6 1105.3,586.6 1075.3,586.6" fill="#ffffff" stroke="#ff0080" stroke-width="2.7" stroke-linejoin="miter"/>
<polygon points="1144.9,525.3 1159.9,499.3 1129.9,499.3" fill="#ffffff" stroke="#ff0080" stroke-width="2.7" stroke-linejoin="miter"/>
<polygon points="1199.5,426.9 1214.5,401.0 1184.5,401.0" fill="#ffffff" stroke="#ff0080" stroke-width="2.7" stroke-linejoin="miter"/>
<polygon points="1254.1,318.0 1269.1,292.0 1239.1,292.0" fill="#ffffff" stroke="#ff0080" stroke-width="2.7" stroke-linejoin="miter"/>
<polygon points="1308.7,154.0 1323.7,128.0 1293.7,128.0" fill="#ffffff" stroke="#ff0080" stroke-width="2.7" stroke-linejoin="miter"/>
<polygon points="216.9,120.4 233.2,136.7 216.9,153.0 200.6,136.7" fill="#ffffff" stroke="#008000" stroke-width="2.7" stroke-linejoin="miter"/>
<polygon points="271.5,277.0 287.8,293.3 271.5,309.6 255.2,293.3" fill="#ffffff" stroke="#008000" stroke-width="2.7" stroke-linejoin="miter"/>
<polygon points="326.1,401.6 342.4,417.9 326.1,434.2 309.8,417.9" fill="#ffffff" stroke="#008000" stroke-width="2.7" stroke-linejoin="miter"/>
<polygon points="380.7,498.2 397.0,514.5 380.7,530.8 364.4,514.5" fill="#ffffff" stroke="#008000" stroke-width="2.7" stroke-linejoin="miter"/>
<polygon points="435.3,597.0 451.6,613.3 435.3,629.6 419.0,613.3" fill="#ffffff" stroke="#008000" stroke-width="2.7" stroke-linejoin="miter"/>
<polygon points="489.9,663.9 506.2,680.2 489.9,696.5 473.6,680.2" fill="#ffffff" stroke="#008000" stroke-width="2.7" stroke-linejoin="miter"/>
<polygon points="544.4,729.1 560.7,745.4 544.4,761.7 528.1,745.4" fill="#ffffff" stroke="#008000" stroke-width="2.7" stroke-linejoin="miter"/>
<polygon points="599.0,780.8 615.3,797.1 599.0,813.4 582.7,797.1" fill="#ffffff" stroke="#008000" stroke-width="2.7" stroke-linejoin="miter"/>
<polygon points="653.6,817.7 669.9,834.0 653.6,850.3 637.3,834.0" fill="#ffffff" stroke="#008000" stroke-width="2.7" stroke-linejoin="miter"/>
<polygon points="708.2,843.1 724.5,859.4 708.2,875.7 691.9,859.4" fill="#ffffff" stroke="#008000" stroke-width="2.7" stroke-linejoin="miter"/>
<polygon points="762.8,843.6 779.1,859.9 762.8,876.2 746.5,859.9" fill="#ffffff" stroke="#008000" stroke-width="2.7" stroke-linejoin="miter"/>
<polygon points="817.4,829.3 833.7,845.6 817.4,861.9 801.1,845.6" fill="#ffffff" stroke="#008000" stroke-width="2.7" stroke-linejoin="miter"/>
<polygon points="872.0,803.9 888.3,820.2 872.0,836.5 855.7,820.2" fill="#ffffff" stroke="#008000" stroke-width="2.7" stroke-linejoin="miter"/>
<polygon points="926.6,762.3 942.9,778.6 926.6,794.9 910.3,778.6" fill="#ffffff" stroke="#008000" stroke-width="2.7" stroke-linejoin="miter"/>
<polygon points="981.2,724.4 997.5,740.7 981.2,757.0 964.9,740.7" fill="#ffffff" stroke="#008000" stroke-width="2.7" stroke-linejoin="miter"/>
<polygon points="1035.8,669.9 1052.0,686.2 1035.8,702.5 1019.5,686.2" fill="#ffffff" stroke="#008000" stroke-width="2.7" stroke-linejoin="miter"/>
<polygon points="1090.3,595.1 1106.6,611.4 1090.3,627.7 1074.0,611.4" fill="#ffffff" stroke="#008000" stroke-width="2.7" stroke-linejoin="miter"/>
<polygon points="1144.9,500.9 1161.2,517.2 1144.9,533.5 1128.6,517.2" fill="#ffffff" stroke="#008000" stroke-width="2.7" stroke-linejoin="miter"/>
<polygon points="1199.5,399.8 1215.8,416.1 1199.5,432.4 1183.2,416.1" fill="#ffffff" stroke="#008000" stroke-width="2.7" stroke-linejoin="miter"/>
<polygon points="1254.1,284.3 1270.4,300.6 1254.1,316.9 1237.8,300.6" fill="#ffffff" stroke="#008000" stroke-width="2.7" stroke-linejoin="miter"/>
<polygon points="1308.7,120.4 1325.0,136.7 1308.7,153.0 1292.4,136.7" fill="#ffffff" stroke="#008000" stroke-width="2.7" stroke-linejoin="miter"/>
<polygon points="199.6,136.7 225.6,121.7 225.6,151.7" fill="#ffffff" stroke="#000080" stroke-width="2.7" stroke-linejoin="miter"/>
<polygon points="254.2,290.9 280.2,275.9 280.2,305.9" fill="#ffffff" stroke="#000080" stroke-width="2.7" stroke-linejoin="miter"/>
<polygon points="308.8,419.8 334.7,404.8 334.7,434.8" fill="#ffffff" stroke="#000080" stroke-width="2.7" stroke-linejoin="miter"/>
<polygon points="363.3,533.4 389.3,518.4 389.3,548.4" fill="#ffffff" stroke="#000080" stroke-width="2.7" stroke-linejoin="miter"/>
<polygon points="417.9,616.0 443.9,601.0 443.9,631.0" fill="#ffffff" stroke="#000080" stroke-width="2.7" stroke-linejoin="miter"/>
<polygon points="472.5,687.2 498.5,672.2 498.5,702.2" fill="#ffffff" stroke="#000080" stroke-width="2.7" stroke-linejoin="miter"/>
<polygon points="527.1,753.2 553.1,738.2 553.1,768.2" fill="#ffffff" stroke="#000080" stroke-width="2.7" stroke-linejoin="miter"/>
<polygon points="581.7,803.5 607.7,788.5 607.7,818.5" fill="#ffffff" stroke="#000080" stroke-width="2.7" stroke-linejoin="miter"/>
<polygon points="636.3,843.3 662.3,828.3 662.3,858.3" fill="#ffffff" stroke="#000080" stroke-width="2.7" stroke-linejoin="miter"/>
<polygon points="690.9,864.0 716.9,849.0 716.9,879.0" fill="#ffffff" stroke="#000080" stroke-width="2.7" stroke-linejoin="miter"/>
<polygon points="745.5,865.0 771.5,850.0 771.5,880.0" fill="#ffffff" stroke="#000080" stroke-width="2.7" stroke-linejoin="miter"/>
<polygon points="800.1,851.6 826.1,836.6 826.1,866.6" fill="#ffffff" stroke="#000080" stroke-width="2.7" stroke-linejoin="miter"/>
<polygon points="854.7,826.6 880.6,811.6 880.6,841.6" fill="#ffffff" stroke="#000080" stroke-width="2.7" stroke-linejoin="miter"/>
<polygon points="909.2,781.8 935.2,766.8 935.2,796.8" fill="#ffffff" stroke="#000080" stroke-width="2.7" stroke-linejoin="miter"/>
<polygon points="963.8,756.4 989.8,741.4 989.8,771.4" fill="#ffffff" stroke="#000080" stroke-width="2.7" stroke-linejoin="miter"/>
<polygon points="1018.4,690.9 1044.4,675.9 1044.4,705.9" fill="#ffffff" stroke="#000080" stroke-width="2.7" stroke-linejoin="miter"/>
<polygon points="1073.0,623.9 1099.0,608.9 1099.0,638.9" fill="#ffffff" stroke="#000080" stroke-width="2.7" stroke-linejoin="miter"/>
<polygon points="1127.6,526.0 1153.6,511.0 1153.6,541.0" fill="#ffffff" stroke="#000080" stroke-width="2.7" stroke-linejoin="miter"/>
<polygon points="1182.2,423.9 1208.2,408.9 1208.2,438.9" fill="#ffffff" stroke="#000080" stroke-width="2.7" stroke-linejoin="miter"/>
<polygon points="1236.8,299.7 1262.8,284.7 1262.8,314.7" fill="#ffffff" stroke="#000080" stroke-width="2.7" stroke-linejoin="miter"/>
<polygon points="1291.4,136.7 1317.4,121.7 1317.4,151.7" fill="#ffffff" stroke="#000080" stroke-width="2.7" stroke-linejoin="miter"/>
<polyline points="216.9,136.7 219.6,149.8 222.4,162.8 225.1,175.7 227.8,188.4 230.5,200.9 233.3,213.3 236.0,225.6 238.7,237.7 241.5,249.7 244.2,261.5 246.9,273.2 249.7,284.8 252.4,296.3 255.1,307.6 257.8,318.8 260.6,329.9 263.3,340.8 266.0,351.7 268.8,362.4 271.5,373.0 274.2,383.5 276.9,393.8 279.7,404.1 282.4,414.3 285.1,424.3 287.9,434.2 290.6,444.1 293.3,453.8 296.1,463.5 298.8,473.0 301.5,482.4 304.2,491.8 307.0,501.0 309.7,510.2 312.4,519.2 315.2,528.2 317.9,537.1 320.6,545.8 323.4,554.5 326.1,563.2 328.8,571.7 331.5,580.1 334.3,588.5 337.0,596.8 339.7,605.0 342.5,613.1 345.2,621.1 347.9,629.1 350.6,637.0 353.4,644.8 356.1,652.5 358.8,660.2 361.6,667.8 364.3,675.3 367.0,682.7 369.8,690.1 372.5,697.4 375.2,704.6 377.9,711.8 380.7,718.9 383.4,725.9 386.1,732.9 388.9,739.8 391.6,746.6 394.3,753.4 397.0,760.1 399.8,766.7 402.5,773.3 405.2,779.8 408.0,786.3 410.7,792.6 413.4,799.0 416.2,805.3 418.9,811.5 421.6,817.6 424.3,823.7 427.1,829.7 429.8,835.7 432.5,841.6 435.3,847.5 438.0,853.3 440.7,859.1 443.4,864.8 446.2,870.4 448.9,876.0 451.6,881.5 454.4,887.0 457.1,892.4 459.8,897.8 462.6,903.1 465.3,908.3 468.0,913.5 470.7,918.7 473.5,923.8 476.2,928.8 478.9,933.8 481.7,938.7 484.4,943.6 487.1,948.4 489.9,953.2 492.6,958.0 495.3,962.6 498.0,967.3 500.8,971.8 503.5,976.3 506.2,980.8 509.0,985.2 511.7,989.6 514.4,993.9 517.1,998.2 519.9,1002.4 522.6,1006.6 525.3,1010.7 528.1,1014.7 530.8,1018.7 533.5,1022.7 536.3,1026.6 539.0,1030.5 541.7,1034.3 544.4,1038.0 547.2,1041.7 549.9,1045.4 552.6,1049.0 555.4,1052.5 558.1,1056.1 560.8,1059.5 563.5,1062.9 566.3,1066.3 569.0,1069.6 571.7,1072.8 574.5,1076.0 577.2,1079.2 579.9,1082.3 582.7,1085.3 585.4,1088.3 588.1,1091.2 590.8,1094.1 593.6,1097.0 596.3,1099.8 599.0,1102.5 601.8,1105.2 604.5,1107.8 607.2,1110.4 609.9,1113.0 612.7,1115.4 615.4,1117.9 618.1,1120.3 620.9,1122.6 623.6,1124.9 626.3,1127.1 629.1,1129.3 631.8,1131.4 634.5,1133.5 637.2,1135.5 640.0,1137.5 642.7,1139.4 645.4,1141.2 648.2,1143.1 650.9,1144.8 653.6,1146.5 656.3,1148.2 659.1,1149.8 661.8,1151.3 664.5,1152.8 667.3,1154.3 670.0,1155.7 672.7,1157.0 675.5,1158.3 678.2,1159.6 680.9,1160.8 683.6,1161.9 686.4,1163.0 689.1,1164.0 691.8,1165.0 694.6,1165.9 697.3,1166.8 700.0,1167.6 702.8,1168.4 705.5,1169.1 708.2,1169.8 710.9,1170.4 713.7,1170.9 716.4,1171.4 719.1,1171.9 721.9,1172.3 724.6,1172.6 727.3,1172.9 730.0,1173.2 732.8,1173.4 735.5,1173.5 738.2,1173.6 741.0,1173.6 743.7,1173.6 746.4,1173.5 749.2,1173.4 751.9,1173.2 754.6,1173.0 757.3,1172.7 760.1,1172.4 762.8,1172.0 765.5,1171.6 768.3,1171.1 771.0,1170.6 773.7,1170.0 776.4,1169.3 779.2,1168.6 781.9,1167.9 784.6,1167.1 787.4,1166.2 790.1,1165.3 792.8,1164.4 795.6,1163.4 798.3,1162.3 801.0,1161.2 803.7,1160.1 806.5,1158.9 809.2,1157.6 811.9,1156.3 814.7,1155.0 817.4,1153.6 820.1,1152.1 822.8,1150.6 825.6,1149.0 828.3,1147.4 831.0,1145.8 833.8,1144.1 836.5,1142.3 839.2,1140.5 842.0,1138.7 844.7,1136.7 847.4,1134.8 850.1,1132.8 852.9,1130.7 855.6,1128.6 858.3,1126.5 861.1,1124.3 863.8,1122.1 866.5,1119.8 869.3,1117.4 872.0,1115.1 874.7,1112.6 877.4,1110.1 880.2,1107.6 882.9,1105.0 885.6,1102.4 888.4,1099.8 891.1,1097.0 893.8,1094.3 896.5,1091.5 899.3,1088.6 902.0,1085.7 904.7,1082.8 907.5,1079.8 910.2,1076.8 912.9,1073.7 915.7,1070.6 918.4,1067.4 921.1,1064.2 923.8,1060.9 926.6,1057.6 929.3,1054.3 932.0,1050.9 934.8,1047.5 937.5,1044.0 940.2,1040.5 942.9,1036.9 945.7,1033.3 948.4,1029.6 951.1,1026.0 953.9,1022.2 956.6,1018.4 959.3,1014.6 962.1,1010.8 964.8,1006.9 967.5,1002.9 970.2,998.9 973.0,994.9 975.7,990.8 978.4,986.7 981.2,982.6 983.9,978.4 986.6,974.1 989.3,969.9 992.1,965.5 994.8,961.2 997.5,956.8 1000.3,952.4 1003.0,947.9 1005.7,943.4 1008.5,938.8 1011.2,934.2 1013.9,929.6 1016.6,924.9 1019.4,920.2 1022.1,915.4 1024.8,910.6 1027.6,905.8 1030.3,900.9 1033.0,896.0 1035.8,891.0 1038.5,886.0 1041.2,881.0 1043.9,875.9 1046.7,870.8 1049.4,865.6 1052.1,860.4 1054.9,855.2 1057.6,849.9 1060.3,844.6 1063.0,839.2 1065.8,833.8 1068.5,828.4 1071.2,822.9 1074.0,817.4 1076.7,811.8 1079.4,806.2 1082.2,800.6 1084.9,794.9 1087.6,789.1 1090.3,783.4 1093.1,777.6 1095.8,771.7 1098.5,765.8 1101.3,759.9 1104.0,753.9 1106.7,747.9 1109.4,741.8 1112.2,735.7 1114.9,729.5 1117.6,723.3 1120.4,717.1 1123.1,710.8 1125.8,704.5 1128.6,698.1 1131.3,691.7 1134.0,685.2 1136.7,678.7 1139.5,672.1 1142.2,665.5 1144.9,658.8 1147.7,652.1 1150.4,645.3 1153.1,638.5 1155.8,631.7 1158.6,624.7 1161.3,617.8 1164.0,610.7 1166.8,603.7 1169.5,596.5 1172.2,589.3 1175.0,582.1 1177.7,574.8 1180.4,567.4 1183.1,560.0 1185.9,552.6 1188.6,545.0 1191.3,537.4 1194.1,529.8 1196.8,522.1 1199.5,514.3 1202.2,506.4 1205.0,498.5 1207.7,490.6 1210.4,482.5 1213.2,474.4 1215.9,466.2 1218.6,458.0 1221.4,449.6 1224.1,441.2 1226.8,432.8 1229.5,424.2 1232.3,415.6 1235.0,406.9 1237.7,398.1 1240.5,389.3 1243.2,380.3 1245.9,371.3 1248.7,362.2 1251.4,353.0 1254.1,343.7 1256.8,334.3 1259.6,324.8 1262.3,315.3 1265.0,305.6 1267.8,295.9 1270.5,286.0 1273.2,276.0 1275.9,266.0 1278.7,255.8 1281.4,245.6 1284.1,235.2 1286.9,224.7 1289.6,214.1 1292.3,203.4 1295.1,192.6 1297.8,181.7 1300.5,170.6 1303.2,159.4 1306.0,148.1 1308.7,136.7" fill="none" stroke="#000000" stroke-width="5.5" stroke-linejoin="round" stroke-linecap="butt"/>
<polyline points="216.9,136.7 219.6,150.1 222.4,163.3 225.1,176.3 227.8,189.2 230.5,202.0 233.3,214.6 236.0,227.1 238.7,239.4 241.5,251.6 244.2,263.6 246.9,275.6 249.7,287.3 252.4,299.0 255.1,310.5 257.8,321.9 260.6,333.2 263.3,344.3 266.0,355.4 268.8,366.3 271.5,377.1 274.2,387.7 276.9,398.3 279.7,408.7 282.4,419.1 285.1,429.3 287.9,439.4 290.6,449.5 293.3,459.4 296.1,469.2 298.8,478.9 301.5,488.5 304.2,498.0 307.0,507.5 309.7,516.8 312.4,526.0 315.2,535.2 317.9,544.2 320.6,553.2 323.4,562.1 326.1,570.8 328.8,579.5 331.5,588.2 334.3,596.7 337.0,605.1 339.7,613.5 342.5,621.8 345.2,630.0 347.9,638.1 350.6,646.2 353.4,654.2 356.1,662.1 358.8,669.9 361.6,677.6 364.3,685.3 367.0,692.9 369.8,700.5 372.5,707.9 375.2,715.3 377.9,722.7 380.7,729.9 383.4,737.1 386.1,744.2 388.9,751.3 391.6,758.3 394.3,765.2 397.0,772.1 399.8,778.9 402.5,785.6 405.2,792.3 408.0,798.9 410.7,805.5 413.4,811.9 416.2,818.4 418.9,824.7 421.6,831.1 424.3,837.3 427.1,843.5 429.8,849.6 432.5,855.7 435.3,861.7 438.0,867.7 440.7,873.6 443.4,879.4 446.2,885.2 448.9,891.0 451.6,896.7 454.4,902.3 457.1,907.8 459.8,913.4 462.6,918.8 465.3,924.2 468.0,929.6 470.7,934.9 473.5,940.1 476.2,945.3 478.9,950.5 481.7,955.5 484.4,960.6 487.1,965.6 489.9,970.5 492.6,975.4 495.3,980.2 498.0,985.0 500.8,989.7 503.5,994.3 506.2,998.9 509.0,1003.5 511.7,1008.0 514.4,1012.5 517.1,1016.9 519.9,1021.2 522.6,1025.5 525.3,1029.8 528.1,1034.0 530.8,1038.1 533.5,1042.2 536.3,1046.3 539.0,1050.3 541.7,1054.2 544.4,1058.1 547.2,1061.9 549.9,1065.7 552.6,1069.5 555.4,1073.1 558.1,1076.8 560.8,1080.4 563.5,1083.9 566.3,1087.4 569.0,1090.8 571.7,1094.2 574.5,1097.5 577.2,1100.8 579.9,1104.0 582.7,1107.2 585.4,1110.3 588.1,1113.3 590.8,1116.3 593.6,1119.3 596.3,1122.2 599.0,1125.1 601.8,1127.9 604.5,1130.6 607.2,1133.3 609.9,1136.0 612.7,1138.6 615.4,1141.1 618.1,1143.6 620.9,1146.0 623.6,1148.4 626.3,1150.7 629.1,1153.0 631.8,1155.2 634.5,1157.4 637.2,1159.5 640.0,1161.6 642.7,1163.6 645.4,1165.6 648.2,1167.5 650.9,1169.3 653.6,1171.1 656.3,1172.9 659.1,1174.6 661.8,1176.2 664.5,1177.8 667.3,1179.3 670.0,1180.8 672.7,1182.2 675.5,1183.6 678.2,1184.9 680.9,1186.2 683.6,1187.4 686.4,1188.5 689.1,1189.6 691.8,1190.7 694.6,1191.7 697.3,1192.6 700.0,1193.5 702.8,1194.3 705.5,1195.1 708.2,1195.8 710.9,1196.5 713.7,1197.1 716.4,1197.7 719.1,1198.2 721.9,1198.6 724.6,1199.0 727.3,1199.4 730.0,1199.7 732.8,1199.9 735.5,1200.1 738.2,1200.2 741.0,1200.3 743.7,1200.3 746.4,1200.2 749.2,1200.2 751.9,1200.0 754.6,1199.8 757.3,1199.6 760.1,1199.3 762.8,1198.9 765.5,1198.5 768.3,1198.0 771.0,1197.5 773.7,1196.9 776.4,1196.3 779.2,1195.6 781.9,1194.9 784.6,1194.1 787.4,1193.2 790.1,1192.3 792.8,1191.4 795.6,1190.4 798.3,1189.3 801.0,1188.2 803.7,1187.1 806.5,1185.9 809.2,1184.6 811.9,1183.3 814.7,1181.9 817.4,1180.5 820.1,1179.0 822.8,1177.5 825.6,1175.9 828.3,1174.3 831.0,1172.6 833.8,1170.8 836.5,1169.1 839.2,1167.2 842.0,1165.3 844.7,1163.4 847.4,1161.4 850.1,1159.4 852.9,1157.3 855.6,1155.1 858.3,1152.9 861.1,1150.7 863.8,1148.4 866.5,1146.1 869.3,1143.7 872.0,1141.2 874.7,1138.7 877.4,1136.2 880.2,1133.6 882.9,1131.0 885.6,1128.3 888.4,1125.5 891.1,1122.8 893.8,1119.9 896.5,1117.1 899.3,1114.1 902.0,1111.2 904.7,1108.1 907.5,1105.1 910.2,1101.9 912.9,1098.8 915.7,1095.6 918.4,1092.3 921.1,1089.0 923.8,1085.7 926.6,1082.3 929.3,1078.8 932.0,1075.3 934.8,1071.8 937.5,1068.2 940.2,1064.6 942.9,1060.9 945.7,1057.2 948.4,1053.5 951.1,1049.7 953.9,1045.8 956.6,1041.9 959.3,1038.0 962.1,1034.0 964.8,1030.0 967.5,1025.9 970.2,1021.8 973.0,1017.6 975.7,1013.5 978.4,1009.2 981.2,1004.9 983.9,1000.6 986.6,996.2 989.3,991.8 992.1,987.4 994.8,982.9 997.5,978.3 1000.3,973.8 1003.0,969.1 1005.7,964.5 1008.5,959.8 1011.2,955.0 1013.9,950.2 1016.6,945.4 1019.4,940.5 1022.1,935.6 1024.8,930.7 1027.6,925.7 1030.3,920.6 1033.0,915.6 1035.8,910.4 1038.5,905.3 1041.2,900.1 1043.9,894.8 1046.7,889.5 1049.4,884.2 1052.1,878.9 1054.9,873.4 1057.6,868.0 1060.3,862.5 1063.0,857.0 1065.8,851.4 1068.5,845.8 1071.2,840.1 1074.0,834.4 1076.7,828.7 1079.4,822.9 1082.2,817.1 1084.9,811.2 1087.6,805.3 1090.3,799.4 1093.1,793.4 1095.8,787.3 1098.5,781.2 1101.3,775.1 1104.0,769.0 1106.7,762.7 1109.4,756.5 1112.2,750.2 1114.9,743.8 1117.6,737.4 1120.4,731.0 1123.1,724.5 1125.8,718.0 1128.6,711.4 1131.3,704.8 1134.0,698.1 1136.7,691.4 1139.5,684.6 1142.2,677.8 1144.9,671.0 1147.7,664.0 1150.4,657.1 1153.1,650.1 1155.8,643.0 1158.6,635.9 1161.3,628.7 1164.0,621.5 1166.8,614.2 1169.5,606.9 1172.2,599.5 1175.0,592.0 1177.7,584.5 1180.4,577.0 1183.1,569.4 1185.9,561.7 1188.6,553.9 1191.3,546.1 1194.1,538.3 1196.8,530.4 1199.5,522.4 1202.2,514.3 1205.0,506.2 1207.7,498.0 1210.4,489.8 1213.2,481.5 1215.9,473.1 1218.6,464.6 1221.4,456.1 1224.1,447.5 1226.8,438.8 1229.5,430.1 1232.3,421.2 1235.0,412.3 1237.7,403.3 1240.5,394.3 1243.2,385.1 1245.9,375.9 1248.7,366.6 1251.4,357.2 1254.1,347.7 1256.8,338.1 1259.6,328.4 1262.3,318.7 1265.0,308.8 1267.8,298.8 1270.5,288.8 1273.2,278.6 1275.9,268.4 1278.7,258.0 1281.4,247.6 1284.1,237.0 1286.9,226.3 1289.6,215.5 1292.3,204.6 1295.1,193.6 1297.8,182.5 1300.5,171.2 1303.2,159.8 1306.0,148.3 1308.7,136.7" fill="none" stroke="#ff0000" stroke-width="5.5" stroke-linejoin="round" stroke-linecap="butt"/>
<polyline points="216.9,136.7 219.6,150.2 222.4,163.5 225.1,176.6 227.8,189.7 230.5,202.5 233.3,215.3 236.0,227.8 238.7,240.3 241.5,252.6 244.2,264.8 246.9,276.8 249.7,288.8 252.4,300.6 255.1,312.2 257.8,323.8 260.6,335.2 263.3,346.5 266.0,357.7 268.8,368.8 271.5,379.7 274.2,390.6 276.9,401.3 279.7,411.9 282.4,422.5 285.1,432.9 287.9,443.2 290.6,453.4 293.3,463.5 296.1,473.5 298.8,483.4 301.5,493.2 304.2,502.9 307.0,512.5 309.7,522.1 312.4,531.5 315.2,540.8 317.9,550.1 320.6,559.3 323.4,568.3 326.1,577.3 328.8,586.2 331.5,595.1 334.3,603.8 337.0,612.5 339.7,621.0 342.5,629.5 345.2,637.9 347.9,646.3 350.6,654.6 353.4,662.7 356.1,670.9 358.8,678.9 361.6,686.9 364.3,694.8 367.0,702.6 369.8,710.3 372.5,718.0 375.2,725.6 377.9,733.2 380.7,740.6 383.4,748.0 386.1,755.4 388.9,762.6 391.6,769.8 394.3,777.0 397.0,784.1 399.8,791.1 402.5,798.0 405.2,804.9 408.0,811.7 410.7,818.5 413.4,825.2 416.2,831.8 418.9,838.4 421.6,844.9 424.3,851.4 427.1,857.8 429.8,864.1 432.5,870.4 435.3,876.6 438.0,882.8 440.7,888.9 443.4,894.9 446.2,900.9 448.9,906.8 451.6,912.7 454.4,918.5 457.1,924.3 459.8,930.0 462.6,935.6 465.3,941.2 468.0,946.8 470.7,952.2 473.5,957.7 476.2,963.0 478.9,968.4 481.7,973.6 484.4,978.8 487.1,984.0 489.9,989.1 492.6,994.1 495.3,999.1 498.0,1004.1 500.8,1009.0 503.5,1013.8 506.2,1018.6 509.0,1023.3 511.7,1028.0 514.4,1032.6 517.1,1037.1 519.9,1041.6 522.6,1046.1 525.3,1050.5 528.1,1054.9 530.8,1059.2 533.5,1063.4 536.3,1067.6 539.0,1071.7 541.7,1075.8 544.4,1079.8 547.2,1083.8 549.9,1087.7 552.6,1091.6 555.4,1095.4 558.1,1099.2 560.8,1102.9 563.5,1106.5 566.3,1110.2 569.0,1113.7 571.7,1117.2 574.5,1120.6 577.2,1124.0 579.9,1127.4 582.7,1130.6 585.4,1133.9 588.1,1137.0 590.8,1140.2 593.6,1143.2 596.3,1146.2 599.0,1149.2 601.8,1152.1 604.5,1154.9 607.2,1157.7 609.9,1160.5 612.7,1163.2 615.4,1165.8 618.1,1168.4 620.9,1170.9 623.6,1173.4 626.3,1175.8 629.1,1178.1 631.8,1180.4 634.5,1182.7 637.2,1184.9 640.0,1187.0 642.7,1189.1 645.4,1191.1 648.2,1193.1 650.9,1195.0 653.6,1196.9 656.3,1198.7 659.1,1200.5 661.8,1202.2 664.5,1203.8 667.3,1205.4 670.0,1206.9 672.7,1208.4 675.5,1209.8 678.2,1211.2 680.9,1212.5 683.6,1213.8 686.4,1215.0 689.1,1216.1 691.8,1217.2 694.6,1218.2 697.3,1219.2 700.0,1220.1 702.8,1221.0 705.5,1221.8 708.2,1222.5 710.9,1223.2 713.7,1223.9 716.4,1224.5 719.1,1225.0 721.9,1225.5 724.6,1225.9 727.3,1226.2 730.0,1226.5 732.8,1226.8 735.5,1227.0 738.2,1227.1 741.0,1227.2 743.7,1227.2 746.4,1227.2 749.2,1227.1 751.9,1227.0 754.6,1226.8 757.3,1226.5 760.1,1226.2 762.8,1225.9 765.5,1225.5 768.3,1225.0 771.0,1224.5 773.7,1223.9 776.4,1223.3 779.2,1222.6 781.9,1221.8 784.6,1221.0 787.4,1220.2 790.1,1219.3 792.8,1218.3 795.6,1217.3 798.3,1216.2 801.0,1215.1 803.7,1213.9 806.5,1212.7 809.2,1211.4 811.9,1210.0 814.7,1208.6 817.4,1207.2 820.1,1205.7 822.8,1204.1 825.6,1202.5 828.3,1200.8 831.0,1199.1 833.8,1197.4 836.5,1195.5 839.2,1193.7 842.0,1191.7 844.7,1189.8 847.4,1187.7 850.1,1185.7 852.9,1183.5 855.6,1181.3 858.3,1179.1 861.1,1176.8 863.8,1174.5 866.5,1172.1 869.3,1169.7 872.0,1167.2 874.7,1164.6 877.4,1162.0 880.2,1159.4 882.9,1156.7 885.6,1154.0 888.4,1151.2 891.1,1148.3 893.8,1145.4 896.5,1142.5 899.3,1139.5 902.0,1136.5 904.7,1133.4 907.5,1130.3 910.2,1127.1 912.9,1123.9 915.7,1120.6 918.4,1117.3 921.1,1113.9 923.8,1110.5 926.6,1107.0 929.3,1103.5 932.0,1099.9 934.8,1096.3 937.5,1092.7 940.2,1089.0 942.9,1085.2 945.7,1081.5 948.4,1077.6 951.1,1073.7 953.9,1069.8 956.6,1065.8 959.3,1061.8 962.1,1057.8 964.8,1053.7 967.5,1049.5 970.2,1045.3 973.0,1041.1 975.7,1036.8 978.4,1032.5 981.2,1028.1 983.9,1023.7 986.6,1019.2 989.3,1014.7 992.1,1010.2 994.8,1005.6 997.5,1000.9 1000.3,996.3 1003.0,991.6 1005.7,986.8 1008.5,982.0 1011.2,977.1 1013.9,972.3 1016.6,967.3 1019.4,962.3 1022.1,957.3 1024.8,952.3 1027.6,947.2 1030.3,942.0 1033.0,936.8 1035.8,931.6 1038.5,926.3 1041.2,921.0 1043.9,915.7 1046.7,910.3 1049.4,904.8 1052.1,899.3 1054.9,893.8 1057.6,888.2 1060.3,882.6 1063.0,877.0 1065.8,871.3 1068.5,865.5 1071.2,859.8 1074.0,853.9 1076.7,848.1 1079.4,842.1 1082.2,836.2 1084.9,830.2 1087.6,824.1 1090.3,818.0 1093.1,811.9 1095.8,805.7 1098.5,799.5 1101.3,793.2 1104.0,786.9 1106.7,780.6 1109.4,774.2 1112.2,767.7 1114.9,761.2 1117.6,754.7 1120.4,748.1 1123.1,741.4 1125.8,734.7 1128.6,728.0 1131.3,721.2 1134.0,714.4 1136.7,707.5 1139.5,700.6 1142.2,693.6 1144.9,686.5 1147.7,679.5 1150.4,672.3 1153.1,665.1 1155.8,657.9 1158.6,650.6 1161.3,643.2 1164.0,635.8 1166.8,628.3 1169.5,620.8 1172.2,613.2 1175.0,605.6 1177.7,597.9 1180.4,590.1 1183.1,582.3 1185.9,574.4 1188.6,566.5 1191.3,558.4 1194.1,550.4 1196.8,542.2 1199.5,534.0 1202.2,525.7 1205.0,517.4 1207.7,509.0 1210.4,500.5 1213.2,492.0 1215.9,483.3 1218.6,474.6 1221.4,465.9 1224.1,457.0 1226.8,448.1 1229.5,439.1 1232.3,430.0 1235.0,420.8 1237.7,411.6 1240.5,402.2 1243.2,392.8 1245.9,383.3 1248.7,373.7 1251.4,364.0 1254.1,354.2 1256.8,344.4 1259.6,334.4 1262.3,324.3 1265.0,314.2 1267.8,303.9 1270.5,293.6 1273.2,283.1 1275.9,272.5 1278.7,261.8 1281.4,251.1 1284.1,240.2 1286.9,229.1 1289.6,218.0 1292.3,206.8 1295.1,195.4 1297.8,183.9 1300.5,172.3 1303.2,160.6 1306.0,148.7 1308.7,136.7" fill="none" stroke="#0000ff" stroke-width="5.5" stroke-linejoin="round" stroke-linecap="butt"/>
<polyline points="216.9,136.7 219.6,150.2 222.4,163.6 225.1,176.8 227.8,189.9 230.5,202.8 233.3,215.6 236.0,228.3 238.7,240.9 241.5,253.3 244.2,265.6 246.9,277.7 249.7,289.7 252.4,301.7 255.1,313.4 257.8,325.1 260.6,336.7 263.3,348.1 266.0,359.5 268.8,370.7 271.5,381.8 274.2,392.8 276.9,403.7 279.7,414.4 282.4,425.1 285.1,435.7 287.9,446.2 290.6,456.6 293.3,466.9 296.1,477.0 298.8,487.1 301.5,497.1 304.2,507.0 307.0,516.8 309.7,526.6 312.4,536.2 315.2,545.7 317.9,555.2 320.6,564.6 323.4,573.8 326.1,583.0 328.8,592.2 331.5,601.2 334.3,610.2 337.0,619.0 339.7,627.8 342.5,636.5 345.2,645.2 347.9,653.8 350.6,662.2 353.4,670.7 356.1,679.0 358.8,687.3 361.6,695.5 364.3,703.6 367.0,711.6 369.8,719.6 372.5,727.5 375.2,735.4 377.9,743.2 380.7,750.9 383.4,758.5 386.1,766.1 388.9,773.6 391.6,781.0 394.3,788.4 397.0,795.7 399.8,803.0 402.5,810.1 405.2,817.3 408.0,824.3 410.7,831.3 413.4,838.2 416.2,845.1 418.9,851.9 421.6,858.7 424.3,865.4 427.1,872.0 429.8,878.6 432.5,885.1 435.3,891.5 438.0,897.9 440.7,904.2 443.4,910.5 446.2,916.7 448.9,922.9 451.6,929.0 454.4,935.0 457.1,941.0 459.8,946.9 462.6,952.8 465.3,958.6 468.0,964.4 470.7,970.1 473.5,975.7 476.2,981.3 478.9,986.8 481.7,992.3 484.4,997.7 487.1,1003.1 489.9,1008.4 492.6,1013.6 495.3,1018.8 498.0,1024.0 500.8,1029.0 503.5,1034.1 506.2,1039.0 509.0,1043.9 511.7,1048.8 514.4,1053.6 517.1,1058.4 519.9,1063.0 522.6,1067.7 525.3,1072.3 528.1,1076.8 530.8,1081.3 533.5,1085.7 536.3,1090.0 539.0,1094.3 541.7,1098.6 544.4,1102.8 547.2,1106.9 549.9,1111.0 552.6,1115.0 555.4,1119.0 558.1,1122.9 560.8,1126.8 563.5,1130.6 566.3,1134.3 569.0,1138.0 571.7,1141.6 574.5,1145.2 577.2,1148.7 579.9,1152.2 582.7,1155.6 585.4,1159.0 588.1,1162.3 590.8,1165.5 593.6,1168.7 596.3,1171.8 599.0,1174.9 601.8,1177.9 604.5,1180.9 607.2,1183.8 609.9,1186.6 612.7,1189.4 615.4,1192.1 618.1,1194.8 620.9,1197.4 623.6,1200.0 626.3,1202.5 629.1,1204.9 631.8,1207.3 634.5,1209.6 637.2,1211.9 640.0,1214.1 642.7,1216.3 645.4,1218.4 648.2,1220.4 650.9,1222.4 653.6,1224.3 656.3,1226.2 659.1,1228.0 661.8,1229.8 664.5,1231.5 667.3,1233.1 670.0,1234.7 672.7,1236.2 675.5,1237.7 678.2,1239.1 680.9,1240.4 683.6,1241.7 686.4,1243.0 689.1,1244.1 691.8,1245.2 694.6,1246.3 697.3,1247.3 700.0,1248.2 702.8,1249.1 705.5,1250.0 708.2,1250.7 710.9,1251.4 713.7,1252.1 716.4,1252.7 719.1,1253.2 721.9,1253.7 724.6,1254.1 727.3,1254.5 730.0,1254.8 732.8,1255.0 735.5,1255.2 738.2,1255.3 741.0,1255.4 743.7,1255.4 746.4,1255.4 749.2,1255.3 751.9,1255.1 754.6,1254.9 757.3,1254.6 760.1,1254.3 762.8,1253.9 765.5,1253.5 768.3,1253.0 771.0,1252.4 773.7,1251.8 776.4,1251.1 779.2,1250.4 781.9,1249.6 784.6,1248.8 787.4,1247.9 790.1,1246.9 792.8,1245.9 795.6,1244.8 798.3,1243.7 801.0,1242.5 803.7,1241.3 806.5,1240.0 809.2,1238.7 811.9,1237.3 814.7,1235.8 817.4,1234.3 820.1,1232.7 822.8,1231.1 825.6,1229.5 828.3,1227.7 831.0,1225.9 833.8,1224.1 836.5,1222.2 839.2,1220.3 842.0,1218.3 844.7,1216.2 847.4,1214.1 850.1,1212.0 852.9,1209.8 855.6,1207.5 858.3,1205.2 861.1,1202.8 863.8,1200.4 866.5,1198.0 869.3,1195.4 872.0,1192.9 874.7,1190.2 877.4,1187.6 880.2,1184.8 882.9,1182.1 885.6,1179.2 888.4,1176.4 891.1,1173.4 893.8,1170.5 896.5,1167.4 899.3,1164.4 902.0,1161.2 904.7,1158.1 907.5,1154.8 910.2,1151.6 912.9,1148.2 915.7,1144.9 918.4,1141.5 921.1,1138.0 923.8,1134.5 926.6,1130.9 929.3,1127.3 932.0,1123.7 934.8,1120.0 937.5,1116.2 940.2,1112.4 942.9,1108.6 945.7,1104.7 948.4,1100.8 951.1,1096.8 953.9,1092.8 956.6,1088.7 959.3,1084.6 962.1,1080.4 964.8,1076.2 967.5,1071.9 970.2,1067.7 973.0,1063.3 975.7,1058.9 978.4,1054.5 981.2,1050.0 983.9,1045.5 986.6,1041.0 989.3,1036.3 992.1,1031.7 994.8,1027.0 997.5,1022.3 1000.3,1017.5 1003.0,1012.7 1005.7,1007.8 1008.5,1002.9 1011.2,998.0 1013.9,993.0 1016.6,987.9 1019.4,982.8 1022.1,977.7 1024.8,972.6 1027.6,967.3 1030.3,962.1 1033.0,956.8 1035.8,951.5 1038.5,946.1 1041.2,940.7 1043.9,935.2 1046.7,929.7 1049.4,924.2 1052.1,918.6 1054.9,912.9 1057.6,907.2 1060.3,901.5 1063.0,895.8 1065.8,890.0 1068.5,884.1 1071.2,878.2 1074.0,872.3 1076.7,866.3 1079.4,860.3 1082.2,854.2 1084.9,848.1 1087.6,841.9 1090.3,835.7 1093.1,829.5 1095.8,823.2 1098.5,816.8 1101.3,810.4 1104.0,804.0 1106.7,797.5 1109.4,791.0 1112.2,784.4 1114.9,777.8 1117.6,771.1 1120.4,764.4 1123.1,757.6 1125.8,750.8 1128.6,744.0 1131.3,737.0 1134.0,730.1 1136.7,723.1 1139.5,716.0 1142.2,708.9 1144.9,701.7 1147.7,694.4 1150.4,687.2 1153.1,679.8 1155.8,672.4 1158.6,665.0 1161.3,657.5 1164.0,649.9 1166.8,642.3 1169.5,634.6 1172.2,626.8 1175.0,619.0 1177.7,611.2 1180.4,603.2 1183.1,595.2 1185.9,587.2 1188.6,579.1 1191.3,570.9 1194.1,562.6 1196.8,554.3 1199.5,545.9 1202.2,537.4 1205.0,528.9 1207.7,520.3 1210.4,511.6 1213.2,502.8 1215.9,494.0 1218.6,485.1 1221.4,476.1 1224.1,467.0 1226.8,457.8 1229.5,448.6 1232.3,439.3 1235.0,429.8 1237.7,420.3 1240.5,410.8 1243.2,401.1 1245.9,391.3 1248.7,381.4 1251.4,371.5 1254.1,361.4 1256.8,351.2 1259.6,341.0 1262.3,330.6 1265.0,320.1 1267.8,309.6 1270.5,298.9 1273.2,288.1 1275.9,277.2 1278.7,266.2 1281.4,255.0 1284.1,243.8 1286.9,232.4 1289.6,220.9 1292.3,209.2 1295.1,197.5 1297.8,185.6 1300.5,173.6 1303.2,161.4 1306.0,149.1 1308.7,136.7" fill="none" stroke="#ff0080" stroke-width="5.5" stroke-linejoin="round" stroke-linecap="butt"/>
<polyline points="216.9,136.7 219.6,150.5 222.4,164.1 225.1,177.5 227.8,190.8 230.5,204.0 233.3,217.1 236.0,230.0 238.7,242.7 241.5,255.4 244.2,267.9 246.9,280.3 249.7,292.5 252.4,304.7 255.1,316.7 257.8,328.6 260.6,340.3 263.3,352.0 266.0,363.5 268.8,375.0 271.5,386.3 274.2,397.5 276.9,408.6 279.7,419.6 282.4,430.5 285.1,441.3 287.9,452.0 290.6,462.5 293.3,473.0 296.1,483.4 298.8,493.7 301.5,503.9 304.2,514.0 307.0,524.0 309.7,533.9 312.4,543.8 315.2,553.5 317.9,563.2 320.6,572.7 323.4,582.2 326.1,591.6 328.8,600.9 331.5,610.1 334.3,619.3 337.0,628.4 339.7,637.4 342.5,646.3 345.2,655.1 347.9,663.8 350.6,672.5 353.4,681.1 356.1,689.7 358.8,698.1 361.6,706.5 364.3,714.8 367.0,723.1 369.8,731.2 372.5,739.3 375.2,747.3 377.9,755.3 380.7,763.2 383.4,771.0 386.1,778.8 388.9,786.5 391.6,794.1 394.3,801.6 397.0,809.1 399.8,816.6 402.5,823.9 405.2,831.2 408.0,838.5 410.7,845.7 413.4,852.8 416.2,859.8 418.9,866.8 421.6,873.7 424.3,880.6 427.1,887.4 429.8,894.1 432.5,900.8 435.3,907.5 438.0,914.0 440.7,920.5 443.4,927.0 446.2,933.4 448.9,939.7 451.6,946.0 454.4,952.2 457.1,958.3 459.8,964.4 462.6,970.5 465.3,976.5 468.0,982.4 470.7,988.3 473.5,994.1 476.2,999.8 478.9,1005.5 481.7,1011.2 484.4,1016.7 487.1,1022.3 489.9,1027.7 492.6,1033.2 495.3,1038.5 498.0,1043.8 500.8,1049.1 503.5,1054.2 506.2,1059.4 509.0,1064.5 511.7,1069.5 514.4,1074.4 517.1,1079.3 519.9,1084.2 522.6,1089.0 525.3,1093.7 528.1,1098.4 530.8,1103.0 533.5,1107.6 536.3,1112.1 539.0,1116.6 541.7,1121.0 544.4,1125.3 547.2,1129.6 549.9,1133.9 552.6,1138.0 555.4,1142.1 558.1,1146.2 560.8,1150.2 563.5,1154.2 566.3,1158.1 569.0,1161.9 571.7,1165.7 574.5,1169.4 577.2,1173.1 579.9,1176.7 582.7,1180.2 585.4,1183.7 588.1,1187.1 590.8,1190.5 593.6,1193.8 596.3,1197.1 599.0,1200.3 601.8,1203.4 604.5,1206.5 607.2,1209.6 609.9,1212.5 612.7,1215.5 615.4,1218.3 618.1,1221.1 620.9,1223.8 623.6,1226.5 626.3,1229.2 629.1,1231.7 631.8,1234.2 634.5,1236.7 637.2,1239.1 640.0,1241.4 642.7,1243.7 645.4,1245.9 648.2,1248.0 650.9,1250.1 653.6,1252.1 656.3,1254.1 659.1,1256.0 661.8,1257.9 664.5,1259.7 667.3,1261.4 670.0,1263.1 672.7,1264.7 675.5,1266.3 678.2,1267.8 680.9,1269.2 683.6,1270.6 686.4,1271.9 689.1,1273.2 691.8,1274.4 694.6,1275.5 697.3,1276.6 700.0,1277.6 702.8,1278.6 705.5,1279.5 708.2,1280.3 710.9,1281.1 713.7,1281.8 716.4,1282.5 719.1,1283.1 721.9,1283.6 724.6,1284.1 727.3,1284.5 730.0,1284.9 732.8,1285.2 735.5,1285.5 738.2,1285.6 741.0,1285.8 743.7,1285.8 746.4,1285.8 749.2,1285.8 751.9,1285.7 754.6,1285.5 757.3,1285.3 760.1,1285.0 762.8,1284.6 765.5,1284.2 768.3,1283.7 771.0,1283.2 773.7,1282.6 776.4,1282.0 779.2,1281.3 781.9,1280.5 784.6,1279.7 787.4,1278.8 790.1,1277.9 792.8,1276.9 795.6,1275.8 798.3,1274.7 801.0,1273.5 803.7,1272.3 806.5,1271.0 809.2,1269.7 811.9,1268.3 814.7,1266.8 817.4,1265.3 820.1,1263.7 822.8,1262.1 825.6,1260.4 828.3,1258.7 831.0,1256.9 833.8,1255.0 836.5,1253.1 839.2,1251.1 842.0,1249.1 844.7,1247.0 847.4,1244.9 850.1,1242.7 852.9,1240.5 855.6,1238.2 858.3,1235.8 861.1,1233.4 863.8,1231.0 866.5,1228.4 869.3,1225.9 872.0,1223.2 874.7,1220.6 877.4,1217.8 880.2,1215.1 882.9,1212.2 885.6,1209.3 888.4,1206.4 891.1,1203.4 893.8,1200.4 896.5,1197.3 899.3,1194.1 902.0,1190.9 904.7,1187.6 907.5,1184.3 910.2,1181.0 912.9,1177.6 915.7,1174.1 918.4,1170.6 921.1,1167.1 923.8,1163.5 926.6,1159.8 929.3,1156.1 932.0,1152.3 934.8,1148.5 937.5,1144.7 940.2,1140.8 942.9,1136.8 945.7,1132.8 948.4,1128.8 951.1,1124.7 953.9,1120.5 956.6,1116.3 959.3,1112.1 962.1,1107.8 964.8,1103.5 967.5,1099.1 970.2,1094.7 973.0,1090.2 975.7,1085.7 978.4,1081.1 981.2,1076.5 983.9,1071.8 986.6,1067.1 989.3,1062.4 992.1,1057.6 994.8,1052.8 997.5,1047.9 1000.3,1042.9 1003.0,1038.0 1005.7,1032.9 1008.5,1027.9 1011.2,1022.7 1013.9,1017.6 1016.6,1012.4 1019.4,1007.1 1022.1,1001.8 1024.8,996.5 1027.6,991.1 1030.3,985.7 1033.0,980.2 1035.8,974.7 1038.5,969.2 1041.2,963.5 1043.9,957.9 1046.7,952.2 1049.4,946.5 1052.1,940.7 1054.9,934.9 1057.6,929.0 1060.3,923.1 1063.0,917.1 1065.8,911.1 1068.5,905.0 1071.2,898.9 1074.0,892.8 1076.7,886.6 1079.4,880.4 1082.2,874.1 1084.9,867.8 1087.6,861.4 1090.3,855.0 1093.1,848.5 1095.8,842.0 1098.5,835.5 1101.3,828.9 1104.0,822.2 1106.7,815.5 1109.4,808.7 1112.2,801.9 1114.9,795.1 1117.6,788.2 1120.4,781.3 1123.1,774.3 1125.8,767.2 1128.6,760.1 1131.3,753.0 1134.0,745.8 1136.7,738.5 1139.5,731.2 1142.2,723.8 1144.9,716.4 1147.7,709.0 1150.4,701.4 1153.1,693.9 1155.8,686.2 1158.6,678.5 1161.3,670.8 1164.0,663.0 1166.8,655.1 1169.5,647.2 1172.2,639.2 1175.0,631.1 1177.7,623.0 1180.4,614.8 1183.1,606.6 1185.9,598.3 1188.6,589.9 1191.3,581.5 1194.1,573.0 1196.8,564.4 1199.5,555.8 1202.2,547.0 1205.0,538.2 1207.7,529.4 1210.4,520.4 1213.2,511.4 1215.9,502.3 1218.6,493.2 1221.4,483.9 1224.1,474.6 1226.8,465.2 1229.5,455.7 1232.3,446.1 1235.0,436.5 1237.7,426.7 1240.5,416.9 1243.2,406.9 1245.9,396.9 1248.7,386.8 1251.4,376.6 1254.1,366.3 1256.8,355.9 1259.6,345.3 1262.3,334.7 1265.0,324.0 1267.8,313.2 1270.5,302.3 1273.2,291.2 1275.9,280.1 1278.7,268.8 1281.4,257.4 1284.1,245.9 1286.9,234.3 1289.6,222.5 1292.3,210.7 1295.1,198.7 1297.8,186.5 1300.5,174.3 1303.2,161.9 1306.0,149.4 1308.7,136.7" fill="none" stroke="#008000" stroke-width="5.5" stroke-linejoin="round" stroke-linecap="butt"/>
<polyline points="216.9,136.7 219.6,150.5 222.4,164.1 225.1,177.6 227.8,190.9 230.5,204.1 233.3,217.2 236.0,230.2 238.7,243.0 241.5,255.8 244.2,268.4 246.9,280.9 249.7,293.2 252.4,305.5 255.1,317.6 257.8,329.6 260.6,341.6 263.3,353.4 266.0,365.1 268.8,376.6 271.5,388.1 274.2,399.5 276.9,410.8 279.7,422.0 282.4,433.0 285.1,444.0 287.9,454.9 290.6,465.7 293.3,476.4 296.1,487.0 298.8,497.5 301.5,507.9 304.2,518.2 307.0,528.4 309.7,538.6 312.4,548.6 315.2,558.6 317.9,568.5 320.6,578.3 323.4,588.0 326.1,597.6 328.8,607.2 331.5,616.7 334.3,626.0 337.0,635.4 339.7,644.6 342.5,653.7 345.2,662.8 347.9,671.8 350.6,680.7 353.4,689.6 356.1,698.3 358.8,707.0 361.6,715.7 364.3,724.2 367.0,732.7 369.8,741.1 372.5,749.5 375.2,757.7 377.9,765.9 380.7,774.0 383.4,782.1 386.1,790.1 388.9,798.0 391.6,805.9 394.3,813.7 397.0,821.4 399.8,829.0 402.5,836.6 405.2,844.2 408.0,851.6 410.7,859.0 413.4,866.3 416.2,873.6 418.9,880.8 421.6,888.0 424.3,895.0 427.1,902.1 429.8,909.0 432.5,915.9 435.3,922.7 438.0,929.5 440.7,936.2 443.4,942.8 446.2,949.4 448.9,955.9 451.6,962.4 454.4,968.8 457.1,975.1 459.8,981.4 462.6,987.6 465.3,993.8 468.0,999.9 470.7,1005.9 473.5,1011.9 476.2,1017.9 478.9,1023.7 481.7,1029.5 484.4,1035.3 487.1,1040.9 489.9,1046.6 492.6,1052.1 495.3,1057.6 498.0,1063.1 500.8,1068.5 503.5,1073.8 506.2,1079.1 509.0,1084.3 511.7,1089.5 514.4,1094.6 517.1,1099.6 519.9,1104.6 522.6,1109.5 525.3,1114.4 528.1,1119.2 530.8,1123.9 533.5,1128.6 536.3,1133.2 539.0,1137.8 541.7,1142.3 544.4,1146.8 547.2,1151.2 549.9,1155.5 552.6,1159.8 555.4,1164.0 558.1,1168.2 560.8,1172.3 563.5,1176.3 566.3,1180.3 569.0,1184.2 571.7,1188.1 574.5,1191.9 577.2,1195.7 579.9,1199.4 582.7,1203.0 585.4,1206.6 588.1,1210.1 590.8,1213.5 593.6,1216.9 596.3,1220.3 599.0,1223.6 601.8,1226.8 604.5,1229.9 607.2,1233.0 609.9,1236.1 612.7,1239.1 615.4,1242.0 618.1,1244.8 620.9,1247.6 623.6,1250.4 626.3,1253.1 629.1,1255.7 631.8,1258.2 634.5,1260.7 637.2,1263.2 640.0,1265.6 642.7,1267.9 645.4,1270.2 648.2,1272.4 650.9,1274.5 653.6,1276.6 656.3,1278.6 659.1,1280.6 661.8,1282.5 664.5,1284.3 667.3,1286.1 670.0,1287.8 672.7,1289.5 675.5,1291.1 678.2,1292.6 680.9,1294.1 683.6,1295.5 686.4,1296.9 689.1,1298.2 691.8,1299.4 694.6,1300.6 697.3,1301.7 700.0,1302.8 702.8,1303.8 705.5,1304.7 708.2,1305.6 710.9,1306.4 713.7,1307.1 716.4,1307.8 719.1,1308.5 721.9,1309.0 724.6,1309.6 727.3,1310.0 730.0,1310.4 732.8,1310.7 735.5,1311.0 738.2,1311.2 741.0,1311.4 743.7,1311.5 746.4,1311.5 749.2,1311.5 751.9,1311.4 754.6,1311.2 757.3,1311.0 760.1,1310.8 762.8,1310.4 765.5,1310.0 768.3,1309.6 771.0,1309.1 773.7,1308.5 776.4,1307.9 779.2,1307.2 781.9,1306.5 784.6,1305.7 787.4,1304.8 790.1,1303.9 792.8,1302.9 795.6,1301.9 798.3,1300.8 801.0,1299.6 803.7,1298.4 806.5,1297.2 809.2,1295.8 811.9,1294.5 814.7,1293.0 817.4,1291.5 820.1,1290.0 822.8,1288.3 825.6,1286.7 828.3,1284.9 831.0,1283.1 833.8,1281.3 836.5,1279.4 839.2,1277.4 842.0,1275.4 844.7,1273.4 847.4,1271.2 850.1,1269.0 852.9,1266.8 855.6,1264.5 858.3,1262.2 861.1,1259.8 863.8,1257.3 866.5,1254.8 869.3,1252.2 872.0,1249.6 874.7,1246.9 877.4,1244.2 880.2,1241.4 882.9,1238.5 885.6,1235.6 888.4,1232.7 891.1,1229.7 893.8,1226.6 896.5,1223.5 899.3,1220.4 902.0,1217.1 904.7,1213.9 907.5,1210.5 910.2,1207.2 912.9,1203.7 915.7,1200.3 918.4,1196.7 921.1,1193.1 923.8,1189.5 926.6,1185.8 929.3,1182.1 932.0,1178.3 934.8,1174.4 937.5,1170.5 940.2,1166.6 942.9,1162.6 945.7,1158.6 948.4,1154.5 951.1,1150.3 953.9,1146.1 956.6,1141.9 959.3,1137.6 962.1,1133.2 964.8,1128.9 967.5,1124.4 970.2,1119.9 973.0,1115.4 975.7,1110.8 978.4,1106.1 981.2,1101.5 983.9,1096.7 986.6,1091.9 989.3,1087.1 992.1,1082.2 994.8,1077.3 997.5,1072.3 1000.3,1067.3 1003.0,1062.2 1005.7,1057.1 1008.5,1051.9 1011.2,1046.7 1013.9,1041.4 1016.6,1036.1 1019.4,1030.8 1022.1,1025.3 1024.8,1019.9 1027.6,1014.4 1030.3,1008.8 1033.0,1003.2 1035.8,997.6 1038.5,991.9 1041.2,986.1 1043.9,980.4 1046.7,974.5 1049.4,968.6 1052.1,962.7 1054.9,956.7 1057.6,950.7 1060.3,944.6 1063.0,938.5 1065.8,932.3 1068.5,926.1 1071.2,919.8 1074.0,913.5 1076.7,907.1 1079.4,900.7 1082.2,894.3 1084.9,887.7 1087.6,881.2 1090.3,874.6 1093.1,867.9 1095.8,861.2 1098.5,854.4 1101.3,847.6 1104.0,840.8 1106.7,833.8 1109.4,826.9 1112.2,819.9 1114.9,812.8 1117.6,805.7 1120.4,798.5 1123.1,791.3 1125.8,784.0 1128.6,776.6 1131.3,769.3 1134.0,761.8 1136.7,754.3 1139.5,746.8 1142.2,739.2 1144.9,731.5 1147.7,723.8 1150.4,716.0 1153.1,708.1 1155.8,700.2 1158.6,692.3 1161.3,684.3 1164.0,676.2 1166.8,668.1 1169.5,659.9 1172.2,651.6 1175.0,643.3 1177.7,634.9 1180.4,626.4 1183.1,617.9 1185.9,609.3 1188.6,600.7 1191.3,591.9 1194.1,583.2 1196.8,574.3 1199.5,565.4 1202.2,556.4 1205.0,547.3 1207.7,538.1 1210.4,528.9 1213.2,519.6 1215.9,510.3 1218.6,500.8 1221.4,491.3 1224.1,481.7 1226.8,472.0 1229.5,462.2 1232.3,452.3 1235.0,442.4 1237.7,432.4 1240.5,422.3 1243.2,412.1 1245.9,401.8 1248.7,391.4 1251.4,380.9 1254.1,370.4 1256.8,359.7 1259.6,348.9 1262.3,338.1 1265.0,327.1 1267.8,316.0 1270.5,304.9 1273.2,293.6 1275.9,282.2 1278.7,270.7 1281.4,259.1 1284.1,247.4 1286.9,235.6 1289.6,223.7 1292.3,211.6 1295.1,199.4 1297.8,187.1 1300.5,174.7 1303.2,162.2 1306.0,149.5 1308.7,136.7" fill="none" stroke="#000080" stroke-width="5.5" stroke-linejoin="round" stroke-linecap="butt"/>
<polyline points="216.9,136.7 219.6,144.8 222.4,152.9 225.1,160.7 227.8,168.5 230.5,176.1 233.3,183.7 236.0,191.1 238.7,198.4 241.5,205.5 244.2,212.6 246.9,219.6 249.7,226.5 252.4,233.2 255.1,239.9 257.8,246.5 260.6,253.0 263.3,259.4 266.0,265.8 268.8,272.0 271.5,278.2 274.2,284.3 276.9,290.3 279.7,296.2 282.4,302.1 285.1,307.9 287.9,313.6 290.6,319.3 293.3,324.9 296.1,330.5 298.8,335.9 301.5,341.4 304.2,346.7 307.0,352.1 309.7,357.3 312.4,362.5 315.2,367.7 317.9,372.8 320.6,377.9 323.4,382.9 326.1,387.9 328.8,392.8 331.5,397.7 334.3,402.6 337.0,407.4 339.7,412.2 342.5,416.9 345.2,421.6 347.9,426.3 350.6,430.9 353.4,435.5 356.1,440.1 358.8,444.6 361.6,449.1 364.3,453.6 367.0,458.1 369.8,462.5 372.5,466.9 375.2,471.2 377.9,475.6 380.7,479.9 383.4,484.2 386.1,488.5 388.9,492.7 391.6,496.9 394.3,501.1 397.0,505.3 399.8,509.4 402.5,513.6 405.2,517.7 408.0,521.8 410.7,525.8 413.4,529.9 416.2,533.9 418.9,537.9 421.6,541.9 424.3,545.8 427.1,549.8 429.8,553.7 432.5,557.6 435.3,561.5 438.0,565.4 440.7,569.2 443.4,573.1 446.2,576.9 448.9,580.7 451.6,584.4 454.4,588.2 457.1,591.9 459.8,595.6 462.6,599.3 465.3,603.0 468.0,606.7 470.7,610.3 473.5,613.9 476.2,617.5 478.9,621.1 481.7,624.7 484.4,628.2 487.1,631.7 489.9,635.2 492.6,638.7 495.3,642.2 498.0,645.6 500.8,649.0 503.5,652.4 506.2,655.8 509.0,659.1 511.7,662.4 514.4,665.7 517.1,669.0 519.9,672.3 522.6,675.5 525.3,678.7 528.1,681.9 530.8,685.0 533.5,688.2 536.3,691.3 539.0,694.3 541.7,697.4 544.4,700.4 547.2,703.4 549.9,706.4 552.6,709.3 555.4,712.2 558.1,715.1 560.8,718.0 563.5,720.8 566.3,723.6 569.0,726.4 571.7,729.1 574.5,731.8 577.2,734.5 579.9,737.2 582.7,739.8 585.4,742.4 588.1,744.9 590.8,747.4 593.6,749.9 596.3,752.4 599.0,754.8 601.8,757.2 604.5,759.5 607.2,761.8 609.9,764.1 612.7,766.4 615.4,768.6 618.1,770.7 620.9,772.9 623.6,775.0 626.3,777.0 629.1,779.0 631.8,781.0 634.5,783.0 637.2,784.9 640.0,786.7 642.7,788.6 645.4,790.4 648.2,792.1 650.9,793.8 653.6,795.5 656.3,797.1 659.1,798.7 661.8,800.2 664.5,801.7 667.3,803.2 670.0,804.6 672.7,806.0 675.5,807.3 678.2,808.6 680.9,809.9 683.6,811.1 686.4,812.2 689.1,813.4 691.8,814.4 694.6,815.5 697.3,816.4 700.0,817.4 702.8,818.3 705.5,819.1 708.2,819.9 710.9,820.7 713.7,821.4 716.4,822.1 719.1,822.7 721.9,823.3 724.6,823.9 727.3,824.4 730.0,824.8 732.8,825.2 735.5,825.6 738.2,825.9 741.0,826.1 743.7,826.4 746.4,826.5 749.2,826.7 751.9,826.8 754.6,826.8 757.3,826.8 760.1,826.7 762.8,826.6 765.5,826.5 768.3,826.3 771.0,826.1 773.7,825.8 776.4,825.5 779.2,825.1 781.9,824.7 784.6,824.2 787.4,823.7 790.1,823.2 792.8,822.6 795.6,821.9 798.3,821.3 801.0,820.5 803.7,819.8 806.5,818.9 809.2,818.1 811.9,817.2 814.7,816.2 817.4,815.3 820.1,814.2 822.8,813.2 825.6,812.0 828.3,810.9 831.0,809.7 833.8,808.4 836.5,807.2 839.2,805.8 842.0,804.5 844.7,803.1 847.4,801.6 850.1,800.2 852.9,798.6 855.6,797.1 858.3,795.5 861.1,793.8 863.8,792.2 866.5,790.5 869.3,788.7 872.0,786.9 874.7,785.1 877.4,783.2 880.2,781.3 882.9,779.4 885.6,777.4 888.4,775.4 891.1,773.4 893.8,771.3 896.5,769.2 899.3,767.1 902.0,764.9 904.7,762.7 907.5,760.4 910.2,758.2 912.9,755.9 915.7,753.5 918.4,751.2 921.1,748.8 923.8,746.3 926.6,743.9 929.3,741.4 932.0,738.9 934.8,736.3 937.5,733.8 940.2,731.2 942.9,728.6 945.7,725.9 948.4,723.2 951.1,720.5 953.9,717.8 956.6,715.0 959.3,712.3 962.1,709.5 964.8,706.6 967.5,703.8 970.2,700.9 973.0,698.0 975.7,695.1 978.4,692.1 981.2,689.2 983.9,686.2 986.6,683.2 989.3,680.2 992.1,677.1 994.8,674.0 997.5,671.0 1000.3,667.9 1003.0,664.7 1005.7,661.6 1008.5,658.4 1011.2,655.2 1013.9,652.0 1016.6,648.8 1019.4,645.6 1022.1,642.3 1024.8,639.1 1027.6,635.8 1030.3,632.5 1033.0,629.2 1035.8,625.8 1038.5,622.5 1041.2,619.1 1043.9,615.7 1046.7,612.3 1049.4,608.9 1052.1,605.5 1054.9,602.0 1057.6,598.6 1060.3,595.1 1063.0,591.6 1065.8,588.1 1068.5,584.6 1071.2,581.0 1074.0,577.5 1076.7,573.9 1079.4,570.3 1082.2,566.7 1084.9,563.1 1087.6,559.5 1090.3,555.8 1093.1,552.1 1095.8,548.5 1098.5,544.8 1101.3,541.0 1104.0,537.3 1106.7,533.6 1109.4,529.8 1112.2,526.0 1114.9,522.2 1117.6,518.4 1120.4,514.5 1123.1,510.7 1125.8,506.8 1128.6,502.9 1131.3,498.9 1134.0,495.0 1136.7,491.0 1139.5,487.0 1142.2,483.0 1144.9,478.9 1147.7,474.8 1150.4,470.7 1153.1,466.6 1155.8,462.4 1158.6,458.3 1161.3,454.0 1164.0,449.8 1166.8,445.5 1169.5,441.2 1172.2,436.8 1175.0,432.4 1177.7,428.0 1180.4,423.6 1183.1,419.1 1185.9,414.5 1188.6,409.9 1191.3,405.3 1194.1,400.6 1196.8,395.9 1199.5,391.1 1202.2,386.3 1205.0,381.4 1207.7,376.5 1210.4,371.5 1213.2,366.5 1215.9,361.4 1218.6,356.2 1221.4,351.0 1224.1,345.8 1226.8,340.4 1229.5,335.0 1232.3,329.5 1235.0,323.9 1237.7,318.3 1240.5,312.6 1243.2,306.8 1245.9,300.9 1248.7,295.0 1251.4,288.9 1254.1,282.8 1256.8,276.6 1259.6,270.3 1262.3,263.8 1265.0,257.3 1267.8,250.7 1270.5,244.0 1273.2,237.1 1275.9,230.2 1278.7,223.1 1281.4,215.9 1284.1,208.6 1286.9,201.2 1289.6,193.6 1292.3,185.9 1295.1,178.1 1297.8,170.1 1300.5,162.0 1303.2,153.7 1306.0,145.3 1308.7,136.7" fill="none" stroke="#000000" stroke-width="5.5" stroke-linejoin="round" stroke-linecap="butt"/>
<polyline points="216.9,136.7 219.6,144.8 222.4,152.9 225.1,160.8 227.8,168.6 230.5,176.3 233.3,183.9 236.0,191.4 238.7,198.8 241.5,206.1 244.2,213.3 246.9,220.4 249.7,227.4 252.4,234.3 255.1,241.1 257.8,247.9 260.6,254.6 263.3,261.2 266.0,267.7 268.8,274.1 271.5,280.5 274.2,286.8 276.9,293.0 279.7,299.2 282.4,305.2 285.1,311.3 287.9,317.2 290.6,323.1 293.3,329.0 296.1,334.7 298.8,340.5 301.5,346.1 304.2,351.7 307.0,357.3 309.7,362.8 312.4,368.2 315.2,373.6 317.9,379.0 320.6,384.3 323.4,389.6 326.1,394.8 328.8,400.0 331.5,405.1 334.3,410.2 337.0,415.2 339.7,420.2 342.5,425.2 345.2,430.1 347.9,435.0 350.6,439.9 353.4,444.7 356.1,449.5 358.8,454.3 361.6,459.0 364.3,463.7 367.0,468.3 369.8,472.9 372.5,477.5 375.2,482.1 377.9,486.6 380.7,491.1 383.4,495.6 386.1,500.0 388.9,504.5 391.6,508.8 394.3,513.2 397.0,517.5 399.8,521.9 402.5,526.1 405.2,530.4 408.0,534.6 410.7,538.8 413.4,543.0 416.2,547.2 418.9,551.3 421.6,555.4 424.3,559.5 427.1,563.5 429.8,567.6 432.5,571.6 435.3,575.6 438.0,579.5 440.7,583.5 443.4,587.4 446.2,591.3 448.9,595.1 451.6,599.0 454.4,602.8 457.1,606.6 459.8,610.4 462.6,614.1 465.3,617.8 468.0,621.5 470.7,625.2 473.5,628.9 476.2,632.5 478.9,636.1 481.7,639.7 484.4,643.2 487.1,646.8 489.9,650.3 492.6,653.7 495.3,657.2 498.0,660.6 500.8,664.0 503.5,667.4 506.2,670.8 509.0,674.1 511.7,677.4 514.4,680.7 517.1,683.9 519.9,687.1 522.6,690.3 525.3,693.5 528.1,696.6 530.8,699.7 533.5,702.8 536.3,705.9 539.0,708.9 541.7,711.9 544.4,714.9 547.2,717.8 549.9,720.7 552.6,723.6 555.4,726.4 558.1,729.2 560.8,732.0 563.5,734.8 566.3,737.5 569.0,740.2 571.7,742.9 574.5,745.5 577.2,748.1 579.9,750.6 582.7,753.2 585.4,755.7 588.1,758.1 590.8,760.6 593.6,762.9 596.3,765.3 599.0,767.6 601.8,769.9 604.5,772.2 607.2,774.4 609.9,776.6 612.7,778.7 615.4,780.8 618.1,782.9 620.9,784.9 623.6,786.9 626.3,788.9 629.1,790.8 631.8,792.7 634.5,794.6 637.2,796.4 640.0,798.2 642.7,799.9 645.4,801.6 648.2,803.2 650.9,804.8 653.6,806.4 656.3,808.0 659.1,809.5 661.8,810.9 664.5,812.3 667.3,813.7 670.0,815.0 672.7,816.3 675.5,817.6 678.2,818.8 680.9,820.0 683.6,821.1 686.4,822.2 689.1,823.2 691.8,824.2 694.6,825.2 697.3,826.1 700.0,827.0 702.8,827.8 705.5,828.6 708.2,829.4 710.9,830.1 713.7,830.7 716.4,831.3 719.1,831.9 721.9,832.5 724.6,832.9 727.3,833.4 730.0,833.8 732.8,834.2 735.5,834.5 738.2,834.8 741.0,835.0 743.7,835.2 746.4,835.3 749.2,835.4 751.9,835.5 754.6,835.5 757.3,835.5 760.1,835.4 762.8,835.3 765.5,835.1 768.3,834.9 771.0,834.7 773.7,834.4 776.4,834.1 779.2,833.7 781.9,833.3 784.6,832.9 787.4,832.4 790.1,831.8 792.8,831.3 795.6,830.6 798.3,830.0 801.0,829.3 803.7,828.5 806.5,827.7 809.2,826.9 811.9,826.0 814.7,825.1 817.4,824.2 820.1,823.2 822.8,822.2 825.6,821.1 828.3,820.0 831.0,818.8 833.8,817.6 836.5,816.4 839.2,815.1 842.0,813.8 844.7,812.5 847.4,811.1 850.1,809.7 852.9,808.2 855.6,806.7 858.3,805.2 861.1,803.6 863.8,802.0 866.5,800.4 869.3,798.7 872.0,797.0 874.7,795.2 877.4,793.4 880.2,791.6 882.9,789.8 885.6,787.9 888.4,785.9 891.1,784.0 893.8,782.0 896.5,780.0 899.3,777.9 902.0,775.8 904.7,773.7 907.5,771.5 910.2,769.4 912.9,767.1 915.7,764.9 918.4,762.6 921.1,760.3 923.8,758.0 926.6,755.6 929.3,753.2 932.0,750.8 934.8,748.3 937.5,745.8 940.2,743.3 942.9,740.8 945.7,738.2 948.4,735.6 951.1,733.0 953.9,730.4 956.6,727.7 959.3,725.0 962.1,722.3 964.8,719.5 967.5,716.7 970.2,713.9 973.0,711.1 975.7,708.3 978.4,705.4 981.2,702.5 983.9,699.6 986.6,696.6 989.3,693.7 992.1,690.7 994.8,687.7 997.5,684.6 1000.3,681.6 1003.0,678.5 1005.7,675.4 1008.5,672.3 1011.2,669.1 1013.9,666.0 1016.6,662.8 1019.4,659.6 1022.1,656.4 1024.8,653.1 1027.6,649.9 1030.3,646.6 1033.0,643.3 1035.8,639.9 1038.5,636.6 1041.2,633.2 1043.9,629.9 1046.7,626.5 1049.4,623.0 1052.1,619.6 1054.9,616.1 1057.6,612.7 1060.3,609.2 1063.0,605.6 1065.8,602.1 1068.5,598.5 1071.2,595.0 1074.0,591.4 1076.7,587.7 1079.4,584.1 1082.2,580.5 1084.9,576.8 1087.6,573.1 1090.3,569.4 1093.1,565.6 1095.8,561.9 1098.5,558.1 1101.3,554.3 1104.0,550.5 1106.7,546.6 1109.4,542.7 1112.2,538.8 1114.9,534.9 1117.6,531.0 1120.4,527.0 1123.1,523.0 1125.8,519.0 1128.6,515.0 1131.3,510.9 1134.0,506.8 1136.7,502.7 1139.5,498.5 1142.2,494.4 1144.9,490.2 1147.7,485.9 1150.4,481.7 1153.1,477.4 1155.8,473.0 1158.6,468.7 1161.3,464.3 1164.0,459.8 1166.8,455.3 1169.5,450.8 1172.2,446.3 1175.0,441.7 1177.7,437.1 1180.4,432.4 1183.1,427.7 1185.9,422.9 1188.6,418.1 1191.3,413.3 1194.1,408.4 1196.8,403.5 1199.5,398.5 1202.2,393.4 1205.0,388.3 1207.7,383.2 1210.4,378.0 1213.2,372.7 1215.9,367.4 1218.6,362.0 1221.4,356.6 1224.1,351.1 1226.8,345.5 1229.5,339.8 1232.3,334.1 1235.0,328.3 1237.7,322.5 1240.5,316.6 1243.2,310.5 1245.9,304.5 1248.7,298.3 1251.4,292.0 1254.1,285.7 1256.8,279.3 1259.6,272.7 1262.3,266.1 1265.0,259.4 1267.8,252.6 1270.5,245.7 1273.2,238.7 1275.9,231.5 1278.7,224.3 1281.4,217.0 1284.1,209.5 1286.9,201.9 1289.6,194.2 1292.3,186.4 1295.1,178.5 1297.8,170.4 1300.5,162.2 1303.2,153.8 1306.0,145.3 1308.7,136.7" fill="none" stroke="#ff0000" stroke-width="5.5" stroke-linejoin="round" stroke-linecap="butt"/>
<polyline points="216.9,136.7 219.6,145.0 222.4,153.2 225.1,161.3 227.8,169.3 230.5,177.2 233.3,184.9 236.0,192.6 238.7,200.2 241.5,207.7 244.2,215.0 246.9,222.3 249.7,229.5 252.4,236.6 255.1,243.6 257.8,250.5 260.6,257.4 263.3,264.2 266.0,270.9 268.8,277.5 271.5,284.0 274.2,290.5 276.9,296.9 279.7,303.2 282.4,309.4 285.1,315.6 287.9,321.8 290.6,327.8 293.3,333.8 296.1,339.8 298.8,345.6 301.5,351.5 304.2,357.2 307.0,362.9 309.7,368.6 312.4,374.2 315.2,379.7 317.9,385.2 320.6,390.7 323.4,396.1 326.1,401.5 328.8,406.8 331.5,412.0 334.3,417.3 337.0,422.4 339.7,427.6 342.5,432.7 345.2,437.7 347.9,442.8 350.6,447.7 353.4,452.7 356.1,457.6 358.8,462.5 361.6,467.3 364.3,472.1 367.0,476.8 369.8,481.6 372.5,486.3 375.2,490.9 377.9,495.6 380.7,500.2 383.4,504.7 386.1,509.3 388.9,513.8 391.6,518.2 394.3,522.7 397.0,527.1 399.8,531.5 402.5,535.9 405.2,540.2 408.0,544.5 410.7,548.8 413.4,553.0 416.2,557.2 418.9,561.4 421.6,565.6 424.3,569.7 427.1,573.8 429.8,577.9 432.5,582.0 435.3,586.0 438.0,590.0 440.7,594.0 443.4,598.0 446.2,601.9 448.9,605.8 451.6,609.7 454.4,613.5 457.1,617.4 459.8,621.2 462.6,624.9 465.3,628.7 468.0,632.4 470.7,636.1 473.5,639.8 476.2,643.4 478.9,647.1 481.7,650.6 484.4,654.2 487.1,657.8 489.9,661.3 492.6,664.8 495.3,668.2 498.0,671.7 500.8,675.1 503.5,678.4 506.2,681.8 509.0,685.1 511.7,688.4 514.4,691.7 517.1,694.9 519.9,698.1 522.6,701.3 525.3,704.5 528.1,707.6 530.8,710.7 533.5,713.8 536.3,716.8 539.0,719.8 541.7,722.8 544.4,725.7 547.2,728.7 549.9,731.5 552.6,734.4 555.4,737.2 558.1,740.0 560.8,742.8 563.5,745.5 566.3,748.2 569.0,750.9 571.7,753.5 574.5,756.1 577.2,758.7 579.9,761.2 582.7,763.7 585.4,766.2 588.1,768.6 590.8,771.0 593.6,773.3 596.3,775.7 599.0,778.0 601.8,780.2 604.5,782.4 607.2,784.6 609.9,786.8 612.7,788.9 615.4,790.9 618.1,793.0 620.9,795.0 623.6,797.0 626.3,798.9 629.1,800.8 631.8,802.6 634.5,804.4 637.2,806.2 640.0,807.9 642.7,809.6 645.4,811.3 648.2,812.9 650.9,814.5 653.6,816.0 656.3,817.5 659.1,819.0 661.8,820.4 664.5,821.8 667.3,823.1 670.0,824.4 672.7,825.7 675.5,826.9 678.2,828.1 680.9,829.2 683.6,830.3 686.4,831.4 689.1,832.4 691.8,833.4 694.6,834.3 697.3,835.2 700.0,836.0 702.8,836.8 705.5,837.6 708.2,838.3 710.9,839.0 713.7,839.6 716.4,840.2 719.1,840.8 721.9,841.3 724.6,841.7 727.3,842.2 730.0,842.5 732.8,842.9 735.5,843.2 738.2,843.4 741.0,843.6 743.7,843.8 746.4,843.9 749.2,844.0 751.9,844.1 754.6,844.1 757.3,844.0 760.1,843.9 762.8,843.8 765.5,843.6 768.3,843.4 771.0,843.2 773.7,842.9 776.4,842.6 779.2,842.2 781.9,841.8 784.6,841.3 787.4,840.8 790.1,840.3 792.8,839.7 795.6,839.0 798.3,838.4 801.0,837.7 803.7,836.9 806.5,836.1 809.2,835.3 811.9,834.4 814.7,833.5 817.4,832.6 820.1,831.6 822.8,830.6 825.6,829.5 828.3,828.4 831.0,827.2 833.8,826.1 836.5,824.8 839.2,823.6 842.0,822.3 844.7,820.9 847.4,819.6 850.1,818.1 852.9,816.7 855.6,815.2 858.3,813.7 861.1,812.1 863.8,810.5 866.5,808.9 869.3,807.2 872.0,805.5 874.7,803.8 877.4,802.0 880.2,800.2 882.9,798.4 885.6,796.5 888.4,794.6 891.1,792.7 893.8,790.7 896.5,788.7 899.3,786.6 902.0,784.6 904.7,782.5 907.5,780.3 910.2,778.2 912.9,776.0 915.7,773.7 918.4,771.5 921.1,769.2 923.8,766.9 926.6,764.5 929.3,762.1 932.0,759.7 934.8,757.3 937.5,754.8 940.2,752.3 942.9,749.8 945.7,747.3 948.4,744.7 951.1,742.1 953.9,739.5 956.6,736.8 959.3,734.1 962.1,731.4 964.8,728.7 967.5,725.9 970.2,723.1 973.0,720.3 975.7,717.5 978.4,714.6 981.2,711.8 983.9,708.9 986.6,705.9 989.3,703.0 992.1,700.0 994.8,697.0 997.5,694.0 1000.3,690.9 1003.0,687.9 1005.7,684.8 1008.5,681.7 1011.2,678.5 1013.9,675.4 1016.6,672.2 1019.4,669.0 1022.1,665.8 1024.8,662.5 1027.6,659.3 1030.3,656.0 1033.0,652.7 1035.8,649.3 1038.5,646.0 1041.2,642.6 1043.9,639.2 1046.7,635.8 1049.4,632.4 1052.1,628.9 1054.9,625.5 1057.6,622.0 1060.3,618.5 1063.0,614.9 1065.8,611.4 1068.5,607.8 1071.2,604.2 1074.0,600.6 1076.7,596.9 1079.4,593.3 1082.2,589.6 1084.9,585.9 1087.6,582.1 1090.3,578.4 1093.1,574.6 1095.8,570.8 1098.5,567.0 1101.3,563.1 1104.0,559.3 1106.7,555.4 1109.4,551.5 1112.2,547.5 1114.9,543.6 1117.6,539.6 1120.4,535.5 1123.1,531.5 1125.8,527.4 1128.6,523.3 1131.3,519.2 1134.0,515.0 1136.7,510.8 1139.5,506.6 1142.2,502.4 1144.9,498.1 1147.7,493.8 1150.4,489.4 1153.1,485.1 1155.8,480.6 1158.6,476.2 1161.3,471.7 1164.0,467.2 1166.8,462.6 1169.5,458.0 1172.2,453.4 1175.0,448.7 1177.7,444.0 1180.4,439.2 1183.1,434.4 1185.9,429.5 1188.6,424.6 1191.3,419.7 1194.1,414.6 1196.8,409.6 1199.5,404.5 1202.2,399.3 1205.0,394.1 1207.7,388.8 1210.4,383.5 1213.2,378.1 1215.9,372.7 1218.6,367.2 1221.4,361.6 1224.1,355.9 1226.8,350.2 1229.5,344.4 1232.3,338.6 1235.0,332.7 1237.7,326.7 1240.5,320.6 1243.2,314.4 1245.9,308.2 1248.7,301.9 1251.4,295.5 1254.1,289.0 1256.8,282.4 1259.6,275.7 1262.3,268.9 1265.0,262.0 1267.8,255.1 1270.5,248.0 1273.2,240.8 1275.9,233.5 1278.7,226.1 1281.4,218.6 1284.1,211.0 1286.9,203.3 1289.6,195.4 1292.3,187.4 1295.1,179.3 1297.8,171.1 1300.5,162.7 1303.2,154.2 1306.0,145.5 1308.7,136.7" fill="none" stroke="#0000ff" stroke-width="5.5" stroke-linejoin="round" stroke-linecap="butt"/>
<polyline points="216.9,136.7 219.6,145.0 222.4,153.2 225.1,161.3 227.8,169.3 230.5,177.2 233.3,185.0 236.0,192.7 238.7,200.3 241.5,207.8 244.2,215.3 246.9,222.6 249.7,229.9 252.4,237.1 255.1,244.2 257.8,251.2 260.6,258.1 263.3,265.0 266.0,271.8 268.8,278.5 271.5,285.2 274.2,291.7 276.9,298.3 279.7,304.7 282.4,311.1 285.1,317.4 287.9,323.7 290.6,329.9 293.3,336.0 296.1,342.1 298.8,348.1 301.5,354.1 304.2,360.0 307.0,365.8 309.7,371.6 312.4,377.4 315.2,383.1 317.9,388.7 320.6,394.4 323.4,399.9 326.1,405.4 328.8,410.9 331.5,416.3 334.3,421.7 337.0,427.0 339.7,432.3 342.5,437.5 345.2,442.8 347.9,447.9 350.6,453.0 353.4,458.1 356.1,463.2 358.8,468.2 361.6,473.2 364.3,478.1 367.0,483.0 369.8,487.9 372.5,492.7 375.2,497.5 377.9,502.3 380.7,507.0 383.4,511.7 386.1,516.3 388.9,521.0 391.6,525.6 394.3,530.1 397.0,534.7 399.8,539.2 402.5,543.6 405.2,548.1 408.0,552.5 410.7,556.9 413.4,561.2 416.2,565.5 418.9,569.8 421.6,574.1 424.3,578.3 427.1,582.5 429.8,586.7 432.5,590.8 435.3,594.9 438.0,599.0 440.7,603.0 443.4,607.1 446.2,611.1 448.9,615.0 451.6,619.0 454.4,622.9 457.1,626.8 459.8,630.6 462.6,634.4 465.3,638.2 468.0,642.0 470.7,645.8 473.5,649.5 476.2,653.1 478.9,656.8 481.7,660.4 484.4,664.0 487.1,667.6 489.9,671.1 492.6,674.6 495.3,678.1 498.0,681.5 500.8,685.0 503.5,688.4 506.2,691.7 509.0,695.0 511.7,698.3 514.4,701.6 517.1,704.8 519.9,708.1 522.6,711.2 525.3,714.4 528.1,717.5 530.8,720.6 533.5,723.6 536.3,726.6 539.0,729.6 541.7,732.6 544.4,735.5 547.2,738.4 549.9,741.3 552.6,744.1 555.4,746.9 558.1,749.6 560.8,752.4 563.5,755.1 566.3,757.7 569.0,760.3 571.7,762.9 574.5,765.5 577.2,768.0 579.9,770.5 582.7,772.9 585.4,775.4 588.1,777.7 590.8,780.1 593.6,782.4 596.3,784.7 599.0,786.9 601.8,789.1 604.5,791.3 607.2,793.4 609.9,795.5 612.7,797.6 615.4,799.6 618.1,801.6 620.9,803.5 623.6,805.4 626.3,807.3 629.1,809.1 631.8,810.9 634.5,812.7 637.2,814.4 640.0,816.1 642.7,817.7 645.4,819.3 648.2,820.9 650.9,822.4 653.6,823.9 656.3,825.3 659.1,826.7 661.8,828.1 664.5,829.4 667.3,830.7 670.0,831.9 672.7,833.1 675.5,834.3 678.2,835.4 680.9,836.5 683.6,837.5 686.4,838.5 689.1,839.5 691.8,840.4 694.6,841.3 697.3,842.1 700.0,842.9 702.8,843.7 705.5,844.4 708.2,845.1 710.9,845.7 713.7,846.3 716.4,846.9 719.1,847.4 721.9,847.8 724.6,848.3 727.3,848.7 730.0,849.0 732.8,849.3 735.5,849.6 738.2,849.8 741.0,850.0 743.7,850.1 746.4,850.2 749.2,850.3 751.9,850.3 754.6,850.3 757.3,850.2 760.1,850.1 762.8,850.0 765.5,849.8 768.3,849.5 771.0,849.3 773.7,849.0 776.4,848.6 779.2,848.2 781.9,847.8 784.6,847.3 787.4,846.8 790.1,846.3 792.8,845.7 795.6,845.1 798.3,844.4 801.0,843.7 803.7,843.0 806.5,842.2 809.2,841.4 811.9,840.5 814.7,839.6 817.4,838.7 820.1,837.7 822.8,836.7 825.6,835.7 828.3,834.6 831.0,833.5 833.8,832.3 836.5,831.1 839.2,829.9 842.0,828.6 844.7,827.3 847.4,825.9 850.1,824.6 852.9,823.2 855.6,821.7 858.3,820.2 861.1,818.7 863.8,817.2 866.5,815.6 869.3,813.9 872.0,812.3 874.7,810.6 877.4,808.9 880.2,807.1 882.9,805.3 885.6,803.5 888.4,801.7 891.1,799.8 893.8,797.9 896.5,795.9 899.3,793.9 902.0,791.9 904.7,789.9 907.5,787.8 910.2,785.7 912.9,783.5 915.7,781.4 918.4,779.2 921.1,777.0 923.8,774.7 926.6,772.4 929.3,770.1 932.0,767.8 934.8,765.4 937.5,763.0 940.2,760.6 942.9,758.1 945.7,755.6 948.4,753.1 951.1,750.6 953.9,748.0 956.6,745.5 959.3,742.8 962.1,740.2 964.8,737.5 967.5,734.9 970.2,732.1 973.0,729.4 975.7,726.6 978.4,723.8 981.2,721.0 983.9,718.2 986.6,715.3 989.3,712.4 992.1,709.5 994.8,706.6 997.5,703.6 1000.3,700.6 1003.0,697.6 1005.7,694.6 1008.5,691.6 1011.2,688.5 1013.9,685.4 1016.6,682.3 1019.4,679.1 1022.1,675.9 1024.8,672.8 1027.6,669.5 1030.3,666.3 1033.0,663.1 1035.8,659.8 1038.5,656.5 1041.2,653.1 1043.9,649.8 1046.7,646.4 1049.4,643.0 1052.1,639.6 1054.9,636.2 1057.6,632.7 1060.3,629.2 1063.0,625.7 1065.8,622.2 1068.5,618.6 1071.2,615.1 1074.0,611.5 1076.7,607.8 1079.4,604.2 1082.2,600.5 1084.9,596.8 1087.6,593.1 1090.3,589.3 1093.1,585.5 1095.8,581.7 1098.5,577.9 1101.3,574.1 1104.0,570.2 1106.7,566.3 1109.4,562.3 1112.2,558.4 1114.9,554.4 1117.6,550.4 1120.4,546.3 1123.1,542.2 1125.8,538.1 1128.6,534.0 1131.3,529.8 1134.0,525.6 1136.7,521.3 1139.5,517.1 1142.2,512.8 1144.9,508.4 1147.7,504.0 1150.4,499.6 1153.1,495.2 1155.8,490.7 1158.6,486.1 1161.3,481.6 1164.0,476.9 1166.8,472.3 1169.5,467.6 1172.2,462.8 1175.0,458.1 1177.7,453.2 1180.4,448.3 1183.1,443.4 1185.9,438.4 1188.6,433.4 1191.3,428.3 1194.1,423.2 1196.8,418.0 1199.5,412.7 1202.2,407.4 1205.0,402.1 1207.7,396.6 1210.4,391.2 1213.2,385.6 1215.9,380.0 1218.6,374.3 1221.4,368.6 1224.1,362.8 1226.8,356.9 1229.5,350.9 1232.3,344.9 1235.0,338.8 1237.7,332.6 1240.5,326.3 1243.2,319.9 1245.9,313.5 1248.7,307.0 1251.4,300.4 1254.1,293.6 1256.8,286.9 1259.6,280.0 1262.3,273.0 1265.0,265.9 1267.8,258.7 1270.5,251.4 1273.2,244.0 1275.9,236.5 1278.7,228.8 1281.4,221.1 1284.1,213.2 1286.9,205.2 1289.6,197.1 1292.3,188.9 1295.1,180.5 1297.8,172.0 1300.5,163.4 1303.2,154.7 1306.0,145.8 1308.7,136.7" fill="none" stroke="#ff0080" stroke-width="5.5" stroke-linejoin="round" stroke-linecap="butt"/>
<polyline points="216.9,136.7 219.6,145.1 222.4,153.3 225.1,161.5 227.8,169.6 230.5,177.6 233.3,185.5 236.0,193.3 238.7,201.0 241.5,208.7 244.2,216.2 246.9,223.7 249.7,231.1 252.4,238.4 255.1,245.6 257.8,252.7 260.6,259.8 263.3,266.8 266.0,273.8 268.8,280.6 271.5,287.4 274.2,294.1 276.9,300.8 279.7,307.4 282.4,313.9 285.1,320.4 287.9,326.8 290.6,333.1 293.3,339.4 296.1,345.7 298.8,351.8 301.5,357.9 304.2,364.0 307.0,370.0 309.7,375.9 312.4,381.8 315.2,387.7 317.9,393.5 320.6,399.2 323.4,404.9 326.1,410.6 328.8,416.2 331.5,421.7 334.3,427.2 337.0,432.7 339.7,438.1 342.5,443.5 345.2,448.8 347.9,454.1 350.6,459.4 353.4,464.6 356.1,469.7 358.8,474.8 361.6,479.9 364.3,485.0 367.0,490.0 369.8,495.0 372.5,499.9 375.2,504.8 377.9,509.6 380.7,514.4 383.4,519.2 386.1,524.0 388.9,528.7 391.6,533.4 394.3,538.0 397.0,542.6 399.8,547.2 402.5,551.7 405.2,556.2 408.0,560.7 410.7,565.1 413.4,569.5 416.2,573.9 418.9,578.2 421.6,582.5 424.3,586.8 427.1,591.0 429.8,595.3 432.5,599.4 435.3,603.6 438.0,607.7 440.7,611.8 443.4,615.8 446.2,619.8 448.9,623.8 451.6,627.8 454.4,631.7 457.1,635.6 459.8,639.4 462.6,643.3 465.3,647.1 468.0,650.8 470.7,654.6 473.5,658.3 476.2,662.0 478.9,665.6 481.7,669.2 484.4,672.8 487.1,676.3 489.9,679.8 492.6,683.3 495.3,686.8 498.0,690.2 500.8,693.6 503.5,697.0 506.2,700.3 509.0,703.6 511.7,706.8 514.4,710.1 517.1,713.3 519.9,716.4 522.6,719.6 525.3,722.7 528.1,725.7 530.8,728.8 533.5,731.8 536.3,734.7 539.0,737.7 541.7,740.6 544.4,743.5 547.2,746.3 549.9,749.1 552.6,751.9 555.4,754.6 558.1,757.3 560.8,760.0 563.5,762.6 566.3,765.2 569.0,767.8 571.7,770.3 574.5,772.8 577.2,775.2 579.9,777.7 582.7,780.1 585.4,782.4 588.1,784.7 590.8,787.0 593.6,789.3 596.3,791.5 599.0,793.7 601.8,795.8 604.5,797.9 607.2,800.0 609.9,802.0 612.7,804.0 615.4,805.9 618.1,807.9 620.9,809.8 623.6,811.6 626.3,813.4 629.1,815.2 631.8,816.9 634.5,818.6 637.2,820.3 640.0,821.9 642.7,823.5 645.4,825.0 648.2,826.5 650.9,828.0 653.6,829.4 656.3,830.8 659.1,832.2 661.8,833.5 664.5,834.8 667.3,836.0 670.0,837.2 672.7,838.4 675.5,839.5 678.2,840.6 680.9,841.6 683.6,842.6 686.4,843.6 689.1,844.5 691.8,845.4 694.6,846.3 697.3,847.1 700.0,847.9 702.8,848.6 705.5,849.3 708.2,849.9 710.9,850.5 713.7,851.1 716.4,851.7 719.1,852.2 721.9,852.6 724.6,853.0 727.3,853.4 730.0,853.8 732.8,854.1 735.5,854.3 738.2,854.5 741.0,854.7 743.7,854.9 746.4,855.0 749.2,855.0 751.9,855.1 754.6,855.1 757.3,855.0 760.1,854.9 762.8,854.8 765.5,854.6 768.3,854.4 771.0,854.2 773.7,853.9 776.4,853.6 779.2,853.2 781.9,852.8 784.6,852.4 787.4,851.9 790.1,851.4 792.8,850.9 795.6,850.3 798.3,849.7 801.0,849.0 803.7,848.3 806.5,847.6 809.2,846.8 811.9,846.0 814.7,845.2 817.4,844.3 820.1,843.4 822.8,842.4 825.6,841.4 828.3,840.4 831.0,839.3 833.8,838.2 836.5,837.1 839.2,836.0 842.0,834.8 844.7,833.5 847.4,832.2 850.1,830.9 852.9,829.6 855.6,828.2 858.3,826.8 861.1,825.4 863.8,823.9 866.5,822.4 869.3,820.9 872.0,819.3 874.7,817.7 877.4,816.0 880.2,814.4 882.9,812.7 885.6,810.9 888.4,809.2 891.1,807.4 893.8,805.5 896.5,803.7 899.3,801.8 902.0,799.9 904.7,797.9 907.5,795.9 910.2,793.9 912.9,791.9 915.7,789.8 918.4,787.7 921.1,785.5 923.8,783.4 926.6,781.2 929.3,779.0 932.0,776.7 934.8,774.4 937.5,772.1 940.2,769.8 942.9,767.4 945.7,765.0 948.4,762.6 951.1,760.2 953.9,757.7 956.6,755.2 959.3,752.7 962.1,750.1 964.8,747.5 967.5,744.9 970.2,742.3 973.0,739.6 975.7,736.9 978.4,734.2 981.2,731.5 983.9,728.7 986.6,725.9 989.3,723.1 992.1,720.2 994.8,717.4 997.5,714.5 1000.3,711.6 1003.0,708.6 1005.7,705.6 1008.5,702.6 1011.2,699.6 1013.9,696.6 1016.6,693.5 1019.4,690.4 1022.1,687.3 1024.8,684.1 1027.6,681.0 1030.3,677.8 1033.0,674.5 1035.8,671.3 1038.5,668.0 1041.2,664.7 1043.9,661.4 1046.7,658.0 1049.4,654.7 1052.1,651.3 1054.9,647.8 1057.6,644.4 1060.3,640.9 1063.0,637.4 1065.8,633.9 1068.5,630.3 1071.2,626.7 1074.0,623.1 1076.7,619.5 1079.4,615.8 1082.2,612.1 1084.9,608.4 1087.6,604.6 1090.3,600.9 1093.1,597.0 1095.8,593.2 1098.5,589.3 1101.3,585.4 1104.0,581.5 1106.7,577.5 1109.4,573.6 1112.2,569.5 1114.9,565.5 1117.6,561.4 1120.4,557.3 1123.1,553.1 1125.8,548.9 1128.6,544.7 1131.3,540.4 1134.0,536.1 1136.7,531.8 1139.5,527.4 1142.2,523.0 1144.9,518.6 1147.7,514.1 1150.4,509.5 1153.1,505.0 1155.8,500.3 1158.6,495.7 1161.3,491.0 1164.0,486.2 1166.8,481.5 1169.5,476.6 1172.2,471.7 1175.0,466.8 1177.7,461.8 1180.4,456.8 1183.1,451.7 1185.9,446.6 1188.6,441.4 1191.3,436.1 1194.1,430.8 1196.8,425.5 1199.5,420.1 1202.2,414.6 1205.0,409.0 1207.7,403.4 1210.4,397.8 1213.2,392.0 1215.9,386.3 1218.6,380.4 1221.4,374.5 1224.1,368.4 1226.8,362.4 1229.5,356.2 1232.3,350.0 1235.0,343.7 1237.7,337.3 1240.5,330.8 1243.2,324.3 1245.9,317.6 1248.7,310.9 1251.4,304.1 1254.1,297.2 1256.8,290.2 1259.6,283.1 1262.3,275.9 1265.0,268.6 1267.8,261.3 1270.5,253.8 1273.2,246.2 1275.9,238.5 1278.7,230.7 1281.4,222.7 1284.1,214.7 1286.9,206.5 1289.6,198.2 1292.3,189.8 1295.1,181.3 1297.8,172.7 1300.5,163.9 1303.2,155.0 1306.0,145.9 1308.7,136.7" fill="none" stroke="#008000" stroke-width="5.5" stroke-linejoin="round" stroke-linecap="butt"/>
<polyline points="216.9,136.7 219.6,144.9 222.4,153.1 225.1,161.2 227.8,169.2 230.5,177.1 233.3,184.9 236.0,192.7 238.7,200.4 241.5,208.0 244.2,215.6 246.9,223.1 249.7,230.5 252.4,237.8 255.1,245.1 257.8,252.3 260.6,259.5 263.3,266.6 266.0,273.6 268.8,280.6 271.5,287.5 274.2,294.3 276.9,301.1 279.7,307.8 282.4,314.5 285.1,321.1 287.9,327.6 290.6,334.1 293.3,340.6 296.1,346.9 298.8,353.3 301.5,359.6 304.2,365.8 307.0,372.0 309.7,378.1 312.4,384.2 315.2,390.2 317.9,396.2 320.6,402.1 323.4,408.0 326.1,413.8 328.8,419.6 331.5,425.3 334.3,431.0 337.0,436.6 339.7,442.2 342.5,447.8 345.2,453.3 347.9,458.8 350.6,464.2 353.4,469.6 356.1,474.9 358.8,480.2 361.6,485.5 364.3,490.7 367.0,495.8 369.8,501.0 372.5,506.0 375.2,511.1 377.9,516.1 380.7,521.1 383.4,526.0 386.1,530.9 388.9,535.7 391.6,540.5 394.3,545.3 397.0,550.0 399.8,554.7 402.5,559.4 405.2,564.0 408.0,568.6 410.7,573.1 413.4,577.6 416.2,582.1 418.9,586.5 421.6,590.9 424.3,595.3 427.1,599.6 429.8,603.9 432.5,608.1 435.3,612.4 438.0,616.5 440.7,620.7 443.4,624.8 446.2,628.9 448.9,632.9 451.6,636.9 454.4,640.9 457.1,644.8 459.8,648.7 462.6,652.5 465.3,656.4 468.0,660.1 470.7,663.9 473.5,667.6 476.2,671.3 478.9,674.9 481.7,678.6 484.4,682.1 487.1,685.7 489.9,689.2 492.6,692.7 495.3,696.1 498.0,699.5 500.8,702.9 503.5,706.2 506.2,709.5 509.0,712.8 511.7,716.0 514.4,719.2 517.1,722.3 519.9,725.5 522.6,728.5 525.3,731.6 528.1,734.6 530.8,737.6 533.5,740.5 536.3,743.5 539.0,746.3 541.7,749.2 544.4,752.0 547.2,754.8 549.9,757.5 552.6,760.2 555.4,762.9 558.1,765.5 560.8,768.1 563.5,770.6 566.3,773.2 569.0,775.7 571.7,778.1 574.5,780.5 577.2,782.9 579.9,785.3 582.7,787.6 585.4,789.8 588.1,792.1 590.8,794.3 593.6,796.5 596.3,798.6 599.0,800.7 601.8,802.7 604.5,804.8 607.2,806.8 609.9,808.7 612.7,810.6 615.4,812.5 618.1,814.3 620.9,816.2 623.6,817.9 626.3,819.7 629.1,821.4 631.8,823.0 634.5,824.6 637.2,826.2 640.0,827.8 642.7,829.3 645.4,830.8 648.2,832.2 650.9,833.6 653.6,835.0 656.3,836.3 659.1,837.6 661.8,838.9 664.5,840.1 667.3,841.3 670.0,842.4 672.7,843.6 675.5,844.6 678.2,845.7 680.9,846.7 683.6,847.6 686.4,848.6 689.1,849.5 691.8,850.3 694.6,851.1 697.3,851.9 700.0,852.7 702.8,853.4 705.5,854.1 708.2,854.7 710.9,855.3 713.7,855.9 716.4,856.4 719.1,856.9 721.9,857.3 724.6,857.7 727.3,858.1 730.0,858.5 732.8,858.8 735.5,859.1 738.2,859.3 741.0,859.5 743.7,859.7 746.4,859.8 749.2,859.9 751.9,859.9 754.6,860.0 757.3,859.9 760.1,859.9 762.8,859.8 765.5,859.7 768.3,859.5 771.0,859.3 773.7,859.1 776.4,858.8 779.2,858.5 781.9,858.2 784.6,857.8 787.4,857.4 790.1,857.0 792.8,856.5 795.6,856.0 798.3,855.5 801.0,854.9 803.7,854.3 806.5,853.6 809.2,852.9 811.9,852.2 814.7,851.5 817.4,850.7 820.1,849.9 822.8,849.0 825.6,848.1 828.3,847.2 831.0,846.3 833.8,845.3 836.5,844.3 839.2,843.2 842.0,842.1 844.7,841.0 847.4,839.8 850.1,838.7 852.9,837.4 855.6,836.2 858.3,834.9 861.1,833.6 863.8,832.2 866.5,830.9 869.3,829.4 872.0,828.0 874.7,826.5 877.4,825.0 880.2,823.5 882.9,821.9 885.6,820.3 888.4,818.6 891.1,817.0 893.8,815.3 896.5,813.6 899.3,811.8 902.0,810.0 904.7,808.2 907.5,806.3 910.2,804.4 912.9,802.5 915.7,800.6 918.4,798.6 921.1,796.6 923.8,794.6 926.6,792.5 929.3,790.4 932.0,788.3 934.8,786.1 937.5,783.9 940.2,781.7 942.9,779.5 945.7,777.2 948.4,774.9 951.1,772.5 953.9,770.2 956.6,767.8 959.3,765.4 962.1,762.9 964.8,760.4 967.5,757.9 970.2,755.4 973.0,752.8 975.7,750.2 978.4,747.6 981.2,744.9 983.9,742.2 986.6,739.5 989.3,736.8 992.1,734.0 994.8,731.2 997.5,728.4 1000.3,725.5 1003.0,722.6 1005.7,719.7 1008.5,716.8 1011.2,713.8 1013.9,710.8 1016.6,707.7 1019.4,704.7 1022.1,701.6 1024.8,698.5 1027.6,695.3 1030.3,692.1 1033.0,688.9 1035.8,685.7 1038.5,682.4 1041.2,679.1 1043.9,675.7 1046.7,672.4 1049.4,669.0 1052.1,665.5 1054.9,662.1 1057.6,658.6 1060.3,655.1 1063.0,651.5 1065.8,647.9 1068.5,644.3 1071.2,640.7 1074.0,637.0 1076.7,633.3 1079.4,629.5 1082.2,625.7 1084.9,621.9 1087.6,618.1 1090.3,614.2 1093.1,610.3 1095.8,606.3 1098.5,602.3 1101.3,598.3 1104.0,594.2 1106.7,590.1 1109.4,586.0 1112.2,581.8 1114.9,577.6 1117.6,573.4 1120.4,569.1 1123.1,564.8 1125.8,560.4 1128.6,556.0 1131.3,551.6 1134.0,547.1 1136.7,542.6 1139.5,538.0 1142.2,533.4 1144.9,528.7 1147.7,524.0 1150.4,519.3 1153.1,514.5 1155.8,509.7 1158.6,504.8 1161.3,499.9 1164.0,494.9 1166.8,489.9 1169.5,484.8 1172.2,479.7 1175.0,474.5 1177.7,469.3 1180.4,464.0 1183.1,458.7 1185.9,453.3 1188.6,447.9 1191.3,442.4 1194.1,436.8 1196.8,431.2 1199.5,425.5 1202.2,419.8 1205.0,414.0 1207.7,408.2 1210.4,402.3 1213.2,396.3 1215.9,390.3 1218.6,384.1 1221.4,378.0 1224.1,371.7 1226.8,365.4 1229.5,359.0 1232.3,352.6 1235.0,346.0 1237.7,339.4 1240.5,332.8 1243.2,326.0 1245.9,319.2 1248.7,312.3 1251.4,305.3 1254.1,298.2 1256.8,291.0 1259.6,283.8 1262.3,276.4 1265.0,269.0 1267.8,261.5 1270.5,253.9 1273.2,246.2 1275.9,238.4 1278.7,230.5 1281.4,222.5 1284.1,214.4 1286.9,206.2 1289.6,197.9 1292.3,189.5 1295.1,181.0 1297.8,172.3 1300.5,163.6 1303.2,154.8 1306.0,145.8 1308.7,136.7" fill="none" stroke="#000080" stroke-width="5.5" stroke-linejoin="round" stroke-linecap="butt"/>
</g>
</svg>
</body></html>
